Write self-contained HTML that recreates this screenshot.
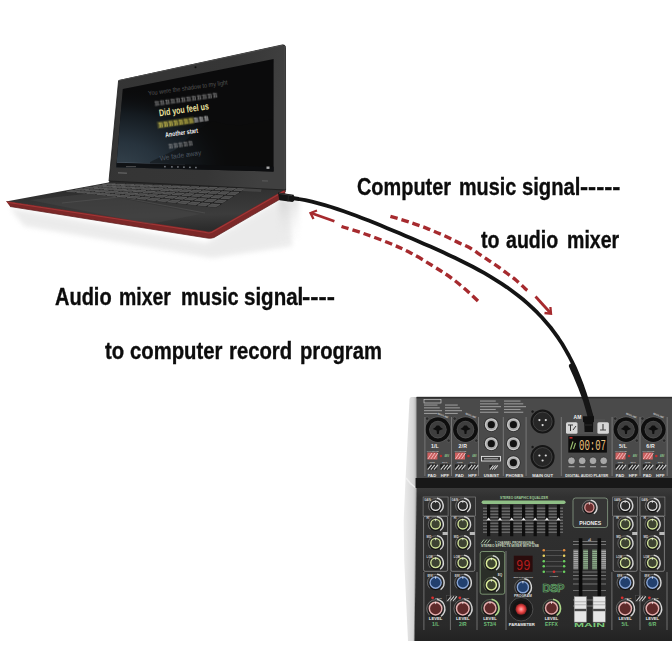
<!DOCTYPE html>
<html><head><meta charset="utf-8">
<style>
html,body{margin:0;padding:0;background:#fff;width:672px;height:672px;overflow:hidden}
svg{display:block;position:absolute;left:0;top:0}
.t{position:absolute;font-family:"Liberation Sans",sans-serif;font-weight:bold;color:#0c0c0c;white-space:nowrap;transform-origin:0 0;font-size:23.5px;line-height:1;-webkit-text-stroke:0.35px #0c0c0c}
</style></head><body>
<svg width="672" height="672" viewBox="0 0 672 672">

<defs>
  <filter id="blur2" x="-20%" y="-20%" width="140%" height="140%"><feGaussianBlur stdDeviation="2.5"/></filter>
  <filter id="blur1" x="-20%" y="-20%" width="140%" height="140%"><feGaussianBlur stdDeviation="0.6"/></filter>
  <filter id="blur05"><feGaussianBlur stdDeviation="0.35"/></filter>
  <linearGradient id="screenG" x1="0" y1="0" x2="0.25" y2="1">
    <stop offset="0" stop-color="#0b0b0c"/><stop offset="0.45" stop-color="#131820"/><stop offset="0.8" stop-color="#253040"/><stop offset="1" stop-color="#2c3646"/>
  </linearGradient>
  <linearGradient id="deckG" x1="0" y1="0" x2="0.3" y2="1">
    <stop offset="0" stop-color="#2e2e2e"/><stop offset="0.5" stop-color="#444"/><stop offset="1" stop-color="#2a2a2a"/>
  </linearGradient>
  <linearGradient id="lidG" x1="0" y1="0" x2="1" y2="0.3">
    <stop offset="0" stop-color="#3a3a3a"/><stop offset="1" stop-color="#2c2c2c"/>
  </linearGradient>
  <linearGradient id="shadowR" x1="0" y1="0" x2="0" y2="1">
    <stop offset="0" stop-color="#bdbdbd"/><stop offset="1" stop-color="#fff" stop-opacity="0"/>
  </linearGradient>
  <linearGradient id="silverG" x1="0" y1="0" x2="1" y2="0">
    <stop offset="0" stop-color="#ececec"/><stop offset="0.7" stop-color="#d6d6d6"/><stop offset="1" stop-color="#b4b4b4"/>
  </linearGradient>
  <linearGradient id="faceG" x1="0" y1="0" x2="0" y2="1">
    <stop offset="0" stop-color="#3c3c3c"/><stop offset="1" stop-color="#2e2e2e"/>
  </linearGradient>
  <radialGradient id="ledRed"><stop offset="0" stop-color="#ffb0b0"/><stop offset="0.55" stop-color="#f04848"/><stop offset="1" stop-color="#8a2020"/></radialGradient>
</defs>

<path d="M10 208 L206 243 L282 199 L290 206 L292 246 L212 258 L24 226 Z" fill="#d4d4d4" filter="url(#blur2)" opacity="0.45"/>
<rect x="279" y="199" width="20" height="50" fill="url(#shadowR)" opacity="0.45" filter="url(#blur2)"/>
<defs><linearGradient id="deckG2" x1="0" y1="0" x2="0.15" y2="1"><stop offset="0" stop-color="#262626"/><stop offset="0.45" stop-color="#343434"/><stop offset="0.75" stop-color="#3c3c3c"/><stop offset="1" stop-color="#2c2c2c"/></linearGradient></defs>
<path d="M6 201.5 L108.5 182.5 L112 178 L285 187 L286 191.5 L212 233.5 L205 233 Z" fill="url(#deckG2)"/>
<path d="M6 201 L205 231 Q209 232.5 212 231 L285 189.5 L285.5 196 L214 237.5 Q211 238.8 207 238 L10 206.5 Z" fill="#7c2828"/>
<path d="M7 202.3 L205 232.3 Q209 233.6 212 232.2 L284.5 191" fill="none" stroke="#a83838" stroke-width="1.1" opacity="0.9"/>
<path d="M10 206.5 L207 238 Q211 238.8 214 237.5 L285.5 196" fill="none" stroke="#5a1a1a" stroke-width="0.9" opacity="0.8"/>
<path d="M30 200 L95 193 L200 214 L150 224 Z" fill="#4a4a4a" opacity="0.45" filter="url(#blur1)"/><path d="M62 203 L120 197 L205 213" fill="none" stroke="#5a5a5a" stroke-width="0.8" opacity="0.6"/>
<path d="M64 191.5 L109 183.2 L247.5 187.5 L216 207.8 Z" fill="#1c1c1c"/>
<path d="M66.4 191.4 L74.4 192.2 L80.2 191.0 L72.2 190.3Z M76.5 192.4 L84.6 193.3 L90.2 192.0 L82.2 191.2Z M86.6 193.5 L94.7 194.3 L100.2 193.0 L92.2 192.2Z M96.7 194.5 L104.8 195.4 L110.2 193.9 L102.2 193.1Z M106.8 195.6 L114.9 196.5 L120.1 194.9 L112.2 194.1Z M116.9 196.7 L125.0 197.5 L130.1 195.8 L122.1 195.1Z M127.0 197.7 L135.1 198.6 L140.1 196.8 L132.1 196.0Z M137.1 198.8 L145.2 199.6 L150.1 197.7 L142.1 197.0Z M147.2 199.9 L155.3 200.7 L160.1 198.7 L152.1 197.9Z M157.3 200.9 L165.4 201.8 L170.1 199.7 L162.1 198.9Z M167.4 202.0 L175.5 202.8 L180.1 200.6 L172.1 199.9Z M177.5 203.0 L185.6 203.9 L190.1 201.6 L182.1 200.8Z M187.6 204.1 L195.7 205.0 L200.1 202.5 L192.1 201.8Z M197.7 205.2 L205.8 206.0 L210.1 203.5 L202.1 202.7Z M207.8 206.2 L215.9 207.1 L220.0 204.5 L212.0 203.7Z M75.3 189.7 L83.3 190.4 L89.0 189.2 L81.2 188.6Z M85.3 190.6 L93.2 191.3 L98.8 190.0 L91.0 189.4Z M95.2 191.5 L103.1 192.2 L108.6 190.8 L100.8 190.2Z M105.1 192.4 L113.1 193.1 L118.5 191.6 L110.6 191.0Z M115.0 193.3 L123.0 194.0 L128.3 192.4 L120.4 191.8Z M125.0 194.2 L132.9 194.9 L138.1 193.2 L130.2 192.6Z M134.9 195.1 L142.8 195.8 L147.9 194.0 L140.0 193.4Z M144.8 196.0 L152.8 196.7 L157.7 194.8 L149.8 194.2Z M154.8 196.9 L162.7 197.6 L167.5 195.6 L159.7 195.0Z M164.7 197.8 L172.6 198.5 L177.3 196.4 L169.5 195.8Z M174.6 198.7 L182.5 199.4 L187.1 197.2 L179.3 196.6Z M184.5 199.6 L192.5 200.3 L196.9 198.0 L189.1 197.4Z M194.5 200.5 L202.4 201.2 L206.7 198.8 L198.9 198.2Z M204.4 201.4 L212.3 202.1 L216.5 199.6 L208.7 199.0Z M214.3 202.3 L222.3 203.0 L226.4 200.4 L218.5 199.8Z M84.3 188.0 L92.1 188.6 L97.9 187.4 L90.2 186.9Z M94.1 188.7 L101.9 189.3 L107.5 188.1 L99.8 187.6Z M103.8 189.5 L111.6 190.1 L117.1 188.7 L109.4 188.2Z M113.6 190.2 L121.4 190.8 L126.8 189.3 L119.1 188.8Z M123.3 191.0 L131.1 191.6 L136.4 190.0 L128.7 189.5Z M133.1 191.7 L140.9 192.3 L146.0 190.6 L138.3 190.1Z M142.8 192.5 L150.6 193.1 L155.6 191.3 L147.9 190.7Z M152.5 193.2 L160.3 193.8 L165.3 191.9 L157.6 191.4Z M162.3 193.9 L170.1 194.5 L174.9 192.5 L167.2 192.0Z M172.0 194.7 L179.8 195.3 L184.5 193.2 L176.8 192.7Z M181.8 195.4 L189.6 196.0 L194.2 193.8 L186.5 193.3Z M191.5 196.2 L199.3 196.8 L203.8 194.5 L196.1 193.9Z M201.3 196.9 L209.1 197.5 L213.4 195.1 L205.7 194.6Z M211.0 197.7 L218.8 198.3 L223.0 195.7 L215.3 195.2Z M220.8 198.4 L228.6 199.0 L232.7 196.4 L225.0 195.9Z M93.3 186.3 L101.0 186.8 L106.7 185.6 L99.1 185.2Z M102.9 186.9 L110.5 187.4 L116.2 186.1 L108.6 185.7Z M112.4 187.5 L120.1 188.0 L125.6 186.6 L118.0 186.2Z M122.0 188.1 L129.7 188.5 L135.1 187.1 L127.5 186.7Z M131.6 188.7 L139.2 189.1 L144.5 187.5 L136.9 187.2Z M141.1 189.2 L148.8 189.7 L154.0 188.0 L146.4 187.6Z M150.7 189.8 L158.4 190.3 L163.4 188.5 L155.8 188.1Z M160.3 190.4 L167.9 190.9 L172.8 189.0 L165.3 188.6Z M169.8 191.0 L177.5 191.5 L182.3 189.5 L174.7 189.1Z M179.4 191.6 L187.1 192.0 L191.7 189.9 L184.2 189.5Z M189.0 192.2 L196.6 192.6 L201.2 190.4 L193.6 190.0Z M198.5 192.7 L206.2 193.2 L210.6 190.9 L203.1 190.5Z M208.1 193.3 L215.8 193.8 L220.1 191.4 L212.5 191.0Z M217.7 193.9 L225.3 194.4 L229.5 191.8 L222.0 191.5Z M227.2 194.5 L234.9 195.0 L239.0 192.3 L231.4 191.9Z M102.3 184.7 L109.8 185.0 L115.5 183.8 L108.1 183.6Z M111.7 185.1 L119.2 185.4 L124.8 184.1 L117.4 183.9Z M121.1 185.5 L128.6 185.8 L134.1 184.5 L126.7 184.2Z M130.4 185.9 L138.0 186.3 L143.4 184.8 L135.9 184.5Z M139.8 186.3 L147.3 186.7 L152.6 185.1 L145.2 184.8Z M149.2 186.8 L156.7 187.1 L161.9 185.4 L154.5 185.2Z M158.6 187.2 L166.1 187.5 L171.2 185.7 L163.7 185.5Z M168.0 187.6 L175.5 188.0 L180.4 186.0 L173.0 185.8Z M177.4 188.0 L184.9 188.4 L189.7 186.4 L182.3 186.1Z M186.8 188.5 L194.3 188.8 L199.0 186.7 L191.6 186.4Z M196.2 188.9 L203.7 189.2 L208.2 187.0 L200.8 186.8Z M205.5 189.3 L213.0 189.6 L217.5 187.3 L210.1 187.1Z M214.9 189.7 L222.4 190.1 L226.8 187.6 L219.4 187.4Z M224.3 190.1 L231.8 190.5 L236.0 188.0 L228.6 187.7Z M233.7 190.6 L241.2 190.9 L245.3 188.3 L237.9 188.0Z" fill="#4c4c4c"/>
<path d="M66.4 191.4 L74.4 192.2 L80.2 191.0 L72.2 190.3Z M76.5 192.4 L84.6 193.3 L90.2 192.0 L82.2 191.2Z M86.6 193.5 L94.7 194.3 L100.2 193.0 L92.2 192.2Z M96.7 194.5 L104.8 195.4 L110.2 193.9 L102.2 193.1Z M106.8 195.6 L114.9 196.5 L120.1 194.9 L112.2 194.1Z M116.9 196.7 L125.0 197.5 L130.1 195.8 L122.1 195.1Z M127.0 197.7 L135.1 198.6 L140.1 196.8 L132.1 196.0Z M137.1 198.8 L145.2 199.6 L150.1 197.7 L142.1 197.0Z M147.2 199.9 L155.3 200.7 L160.1 198.7 L152.1 197.9Z M157.3 200.9 L165.4 201.8 L170.1 199.7 L162.1 198.9Z M167.4 202.0 L175.5 202.8 L180.1 200.6 L172.1 199.9Z M177.5 203.0 L185.6 203.9 L190.1 201.6 L182.1 200.8Z M187.6 204.1 L195.7 205.0 L200.1 202.5 L192.1 201.8Z M197.7 205.2 L205.8 206.0 L210.1 203.5 L202.1 202.7Z M207.8 206.2 L215.9 207.1 L220.0 204.5 L212.0 203.7Z M75.3 189.7 L83.3 190.4 L89.0 189.2 L81.2 188.6Z M85.3 190.6 L93.2 191.3 L98.8 190.0 L91.0 189.4Z M95.2 191.5 L103.1 192.2 L108.6 190.8 L100.8 190.2Z M105.1 192.4 L113.1 193.1 L118.5 191.6 L110.6 191.0Z M115.0 193.3 L123.0 194.0 L128.3 192.4 L120.4 191.8Z M125.0 194.2 L132.9 194.9 L138.1 193.2 L130.2 192.6Z M134.9 195.1 L142.8 195.8 L147.9 194.0 L140.0 193.4Z M144.8 196.0 L152.8 196.7 L157.7 194.8 L149.8 194.2Z M154.8 196.9 L162.7 197.6 L167.5 195.6 L159.7 195.0Z M164.7 197.8 L172.6 198.5 L177.3 196.4 L169.5 195.8Z M174.6 198.7 L182.5 199.4 L187.1 197.2 L179.3 196.6Z M184.5 199.6 L192.5 200.3 L196.9 198.0 L189.1 197.4Z M194.5 200.5 L202.4 201.2 L206.7 198.8 L198.9 198.2Z M204.4 201.4 L212.3 202.1 L216.5 199.6 L208.7 199.0Z M214.3 202.3 L222.3 203.0 L226.4 200.4 L218.5 199.8Z M84.3 188.0 L92.1 188.6 L97.9 187.4 L90.2 186.9Z M94.1 188.7 L101.9 189.3 L107.5 188.1 L99.8 187.6Z M103.8 189.5 L111.6 190.1 L117.1 188.7 L109.4 188.2Z M113.6 190.2 L121.4 190.8 L126.8 189.3 L119.1 188.8Z M123.3 191.0 L131.1 191.6 L136.4 190.0 L128.7 189.5Z M133.1 191.7 L140.9 192.3 L146.0 190.6 L138.3 190.1Z M142.8 192.5 L150.6 193.1 L155.6 191.3 L147.9 190.7Z M152.5 193.2 L160.3 193.8 L165.3 191.9 L157.6 191.4Z M162.3 193.9 L170.1 194.5 L174.9 192.5 L167.2 192.0Z M172.0 194.7 L179.8 195.3 L184.5 193.2 L176.8 192.7Z M181.8 195.4 L189.6 196.0 L194.2 193.8 L186.5 193.3Z M191.5 196.2 L199.3 196.8 L203.8 194.5 L196.1 193.9Z M201.3 196.9 L209.1 197.5 L213.4 195.1 L205.7 194.6Z M211.0 197.7 L218.8 198.3 L223.0 195.7 L215.3 195.2Z M220.8 198.4 L228.6 199.0 L232.7 196.4 L225.0 195.9Z M93.3 186.3 L101.0 186.8 L106.7 185.6 L99.1 185.2Z M102.9 186.9 L110.5 187.4 L116.2 186.1 L108.6 185.7Z M112.4 187.5 L120.1 188.0 L125.6 186.6 L118.0 186.2Z M122.0 188.1 L129.7 188.5 L135.1 187.1 L127.5 186.7Z M131.6 188.7 L139.2 189.1 L144.5 187.5 L136.9 187.2Z M141.1 189.2 L148.8 189.7 L154.0 188.0 L146.4 187.6Z M150.7 189.8 L158.4 190.3 L163.4 188.5 L155.8 188.1Z M160.3 190.4 L167.9 190.9 L172.8 189.0 L165.3 188.6Z M169.8 191.0 L177.5 191.5 L182.3 189.5 L174.7 189.1Z M179.4 191.6 L187.1 192.0 L191.7 189.9 L184.2 189.5Z M189.0 192.2 L196.6 192.6 L201.2 190.4 L193.6 190.0Z M198.5 192.7 L206.2 193.2 L210.6 190.9 L203.1 190.5Z M208.1 193.3 L215.8 193.8 L220.1 191.4 L212.5 191.0Z M217.7 193.9 L225.3 194.4 L229.5 191.8 L222.0 191.5Z M227.2 194.5 L234.9 195.0 L239.0 192.3 L231.4 191.9Z M102.3 184.7 L109.8 185.0 L115.5 183.8 L108.1 183.6Z M111.7 185.1 L119.2 185.4 L124.8 184.1 L117.4 183.9Z M121.1 185.5 L128.6 185.8 L134.1 184.5 L126.7 184.2Z M130.4 185.9 L138.0 186.3 L143.4 184.8 L135.9 184.5Z M139.8 186.3 L147.3 186.7 L152.6 185.1 L145.2 184.8Z M149.2 186.8 L156.7 187.1 L161.9 185.4 L154.5 185.2Z M158.6 187.2 L166.1 187.5 L171.2 185.7 L163.7 185.5Z M168.0 187.6 L175.5 188.0 L180.4 186.0 L173.0 185.8Z M177.4 188.0 L184.9 188.4 L189.7 186.4 L182.3 186.1Z M186.8 188.5 L194.3 188.8 L199.0 186.7 L191.6 186.4Z M196.2 188.9 L203.7 189.2 L208.2 187.0 L200.8 186.8Z M205.5 189.3 L213.0 189.6 L217.5 187.3 L210.1 187.1Z M214.9 189.7 L222.4 190.1 L226.8 187.6 L219.4 187.4Z M224.3 190.1 L231.8 190.5 L236.0 188.0 L228.6 187.7Z M233.7 190.6 L241.2 190.9 L245.3 188.3 L237.9 188.0Z" fill="none" stroke="#8a8a8a" stroke-width="0.45" opacity="0.65"/>
<path d="M244 186 L262 187 L261 192 L243 191 Z" fill="#4a4a4a" opacity="0.8"/>
<defs><linearGradient id="lidG2" x1="0" y1="0" x2="1" y2="0.2"><stop offset="0" stop-color="#343434"/><stop offset="0.7" stop-color="#363636"/><stop offset="1" stop-color="#404040"/></linearGradient></defs>
<path d="M118.6 80.6 L282.5 44.9 Q285.5 44.6 285.5 47.5 L285.6 190 L109 181 Z" fill="url(#lidG2)" stroke="#1c1c1c" stroke-width="0.8" stroke-linejoin="round"/>
<path d="M119 80.5 L283 45.2" stroke="#4c4c4c" stroke-width="1"/>
<path d="M284.6 46 L284.8 189" stroke="#444" stroke-width="1.4"/>
<defs><radialGradient id="skyG" cx="0.02" cy="1.0" r="0.75"><stop offset="0" stop-color="#36444e"/><stop offset="0.35" stop-color="#27333d"/><stop offset="0.7" stop-color="#141a1f"/><stop offset="1" stop-color="#0b0b0c" stop-opacity="0"/></radialGradient></defs>
<path d="M122.8 89 L273.6 59 L273.6 171.6 L116.3 167.3 Z" fill="#0b0b0c"/>
<path d="M122.8 89 L273.6 59 L273.6 171.6 L116.3 167.3 Z" fill="url(#skyG)"/>
<path d="M150 162 L175 150 L195 132 L212 121 L225 124 L240 125.5 L258 122 L273 119 L273 171.5 L150 166 Z" fill="#0a0a0b" opacity="0.45"/>
<path d="M117 162.5 L185 165" stroke="#6a7482" stroke-width="0.8" opacity="0.6" filter="url(#blur05)"/>
<path d="M116.3 167.3 L273.6 171.6 L273.6 166.8 L116.5 162.8 Z" fill="#0c0d10" opacity="0.9"/>
<rect x="164" y="165.9" width="1.8" height="1.5" fill="#b8c0c8" opacity="0.55"/>
<rect x="171" y="166.1" width="1.8" height="1.5" fill="#b8c0c8" opacity="0.55"/>
<rect x="177" y="166.2" width="1.8" height="1.5" fill="#b8c0c8" opacity="0.55"/>
<rect x="183" y="166.4" width="1.8" height="1.5" fill="#b8c0c8" opacity="0.55"/>
<rect x="189" y="166.6" width="1.8" height="1.5" fill="#b8c0c8" opacity="0.55"/>
<rect x="195" y="166.8" width="1.8" height="1.5" fill="#b8c0c8" opacity="0.55"/>
<rect x="266.5" y="166.5" width="3" height="2.4" fill="#ddd" opacity="0.75"/>
<rect x="126" y="166" width="10" height="1.2" fill="#999" opacity="0.4"/>
<rect transform="translate(118,172) rotate(3)" x="0" y="0" width="9" height="1.6" fill="#777" opacity="0.6"/>
<rect transform="translate(262,180) rotate(3)" x="0" y="0" width="6" height="1.4" fill="#666" opacity="0.5"/>
<circle cx="195.5" cy="67.2" r="1" fill="#0e0e0e"/>
<text transform="translate(188,88.3) rotate(-8)" x="0" y="0" text-anchor="middle" dominant-baseline="middle" font-family="Liberation Sans" font-weight="normal" font-size="6.4" fill="#555555" opacity="1" textLength="80" lengthAdjust="spacingAndGlyphs">You were the shadow to my light</text>
<g transform="translate(186,99.2) rotate(-8)" opacity="0.72" filter="url(#blur05)"><path d="M-31.70 -1.70 h4.33 M-31.40 0.00 h3.83 M-31.70 1.90 h4.33 M-30.10 -2.30 v4.60 M-27.97 -1.30 v3.60" stroke="#a8a8a8" stroke-width="0.7"/><path d="M-26.37 -1.70 h4.33 M-26.07 0.00 h3.83 M-26.37 1.90 h4.33 M-24.77 -2.30 v4.60 M-22.63 -1.30 v3.60" stroke="#a8a8a8" stroke-width="0.7"/><path d="M-21.03 -1.70 h4.33 M-20.73 0.00 h3.83 M-21.03 1.90 h4.33 M-19.43 -2.30 v4.60 M-17.30 -1.30 v3.60" stroke="#a8a8a8" stroke-width="0.7"/><path d="M-15.70 -1.70 h4.33 M-15.40 0.00 h3.83 M-15.70 1.90 h4.33 M-14.10 -2.30 v4.60 M-11.97 -1.30 v3.60" stroke="#a8a8a8" stroke-width="0.7"/><path d="M-10.37 -1.70 h4.33 M-10.07 0.00 h3.83 M-10.37 1.90 h4.33 M-8.77 -2.30 v4.60 M-6.63 -1.30 v3.60" stroke="#a8a8a8" stroke-width="0.7"/><path d="M-5.03 -1.70 h4.33 M-4.73 0.00 h3.83 M-5.03 1.90 h4.33 M-3.43 -2.30 v4.60 M-1.30 -1.30 v3.60" stroke="#a8a8a8" stroke-width="0.7"/><path d="M0.30 -1.70 h4.33 M0.60 0.00 h3.83 M0.30 1.90 h4.33 M1.90 -2.30 v4.60 M4.03 -1.30 v3.60" stroke="#a8a8a8" stroke-width="0.7"/><path d="M5.63 -1.70 h4.33 M5.93 0.00 h3.83 M5.63 1.90 h4.33 M7.23 -2.30 v4.60 M9.37 -1.30 v3.60" stroke="#a8a8a8" stroke-width="0.7"/><path d="M10.97 -1.70 h4.33 M11.27 0.00 h3.83 M10.97 1.90 h4.33 M12.57 -2.30 v4.60 M14.70 -1.30 v3.60" stroke="#a8a8a8" stroke-width="0.7"/><path d="M16.30 -1.70 h4.33 M16.60 0.00 h3.83 M16.30 1.90 h4.33 M17.90 -2.30 v4.60 M20.03 -1.30 v3.60" stroke="#a8a8a8" stroke-width="0.7"/><path d="M21.63 -1.70 h4.33 M21.93 0.00 h3.83 M21.63 1.90 h4.33 M23.23 -2.30 v4.60 M25.37 -1.30 v3.60" stroke="#a8a8a8" stroke-width="0.7"/><path d="M26.97 -1.70 h4.33 M27.27 0.00 h3.83 M26.97 1.90 h4.33 M28.57 -2.30 v4.60 M30.70 -1.30 v3.60" stroke="#a8a8a8" stroke-width="0.7"/></g>
<text transform="translate(184,110.3) rotate(-8)" x="0" y="0" text-anchor="middle" dominant-baseline="middle" font-family="Liberation Sans" font-weight="bold" font-size="9.6" fill="#ece2a0" opacity="1" textLength="50" lengthAdjust="spacingAndGlyphs">Did you feel us</text>
<g transform="translate(183.5,121.6) rotate(-8)" opacity="0.85" filter="url(#blur05)"><rect x="-26.5" y="-3.5999999999999996" width="37.199999999999996" height="7.199999999999999" fill="#c8c040" opacity="0.28"/><path d="M-25.20 -1.80 h4.10 M-24.90 0.00 h3.60 M-25.20 2.00 h4.10 M-23.67 -2.40 v4.80 M-21.63 -1.40 v3.80" stroke="#e8da58" stroke-width="0.7"/><path d="M-20.10 -1.80 h4.10 M-19.80 0.00 h3.60 M-20.10 2.00 h4.10 M-18.57 -2.40 v4.80 M-16.53 -1.40 v3.80" stroke="#e8da58" stroke-width="0.7"/><path d="M-15.00 -1.80 h4.10 M-14.70 0.00 h3.60 M-15.00 2.00 h4.10 M-13.47 -2.40 v4.80 M-11.43 -1.40 v3.80" stroke="#e8da58" stroke-width="0.7"/><path d="M-9.90 -1.80 h4.10 M-9.60 0.00 h3.60 M-9.90 2.00 h4.10 M-8.37 -2.40 v4.80 M-6.33 -1.40 v3.80" stroke="#e8da58" stroke-width="0.7"/><path d="M-4.80 -1.80 h4.10 M-4.50 0.00 h3.60 M-4.80 2.00 h4.10 M-3.27 -2.40 v4.80 M-1.23 -1.40 v3.80" stroke="#e8da58" stroke-width="0.7"/><path d="M0.30 -1.80 h4.10 M0.60 0.00 h3.60 M0.30 2.00 h4.10 M1.83 -2.40 v4.80 M3.87 -1.40 v3.80" stroke="#e8da58" stroke-width="0.7"/><path d="M5.40 -1.80 h4.10 M5.70 0.00 h3.60 M5.40 2.00 h4.10 M6.93 -2.40 v4.80 M8.97 -1.40 v3.80" stroke="#e8da58" stroke-width="0.7"/><path d="M10.50 -1.80 h4.10 M10.80 0.00 h3.60 M10.50 2.00 h4.10 M12.03 -2.40 v4.80 M14.07 -1.40 v3.80" stroke="#e0e0e0" stroke-width="0.7"/><path d="M15.60 -1.80 h4.10 M15.90 0.00 h3.60 M15.60 2.00 h4.10 M17.13 -2.40 v4.80 M19.17 -1.40 v3.80" stroke="#e0e0e0" stroke-width="0.7"/><path d="M20.70 -1.80 h4.10 M21.00 0.00 h3.60 M20.70 2.00 h4.10 M22.23 -2.40 v4.80 M24.27 -1.40 v3.80" stroke="#e0e0e0" stroke-width="0.7"/></g>
<text transform="translate(181.7,133.2) rotate(-8)" x="0" y="0" text-anchor="middle" dominant-baseline="middle" font-family="Liberation Sans" font-weight="bold" font-size="6.8" fill="#f0f0f0" opacity="1" textLength="33" lengthAdjust="spacingAndGlyphs">Another start</text>
<g transform="translate(180.6,144.6) rotate(-8)" opacity="0.7" filter="url(#blur05)"><path d="M-12.20 -1.70 h4.00 M-11.90 0.00 h3.50 M-12.20 1.90 h4.00 M-10.70 -2.30 v4.60 M-8.70 -1.30 v3.60" stroke="#a8a8a8" stroke-width="0.7"/><path d="M-7.20 -1.70 h4.00 M-6.90 0.00 h3.50 M-7.20 1.90 h4.00 M-5.70 -2.30 v4.60 M-3.70 -1.30 v3.60" stroke="#a8a8a8" stroke-width="0.7"/><path d="M-2.20 -1.70 h4.00 M-1.90 0.00 h3.50 M-2.20 1.90 h4.00 M-0.70 -2.30 v4.60 M1.30 -1.30 v3.60" stroke="#a8a8a8" stroke-width="0.7"/><path d="M2.80 -1.70 h4.00 M3.10 0.00 h3.50 M2.80 1.90 h4.00 M4.30 -2.30 v4.60 M6.30 -1.30 v3.60" stroke="#a8a8a8" stroke-width="0.7"/><path d="M7.80 -1.70 h4.00 M8.10 0.00 h3.50 M7.80 1.90 h4.00 M9.30 -2.30 v4.60 M11.30 -1.30 v3.60" stroke="#a8a8a8" stroke-width="0.7"/></g>
<text transform="translate(180.5,156) rotate(-8)" x="0" y="0" text-anchor="middle" dominant-baseline="middle" font-family="Liberation Sans" font-weight="normal" font-size="6.8" fill="#4c5660" opacity="1" textLength="42" lengthAdjust="spacingAndGlyphs">We fade away</text>
<g fill="none" stroke="#a62a2e" stroke-width="3.4" stroke-linecap="butt">
<path d="M341.5 226.5 C345.4 227.8 357.1 231.2 365.0 234.0 C372.9 236.8 381.7 240.0 389.0 243.0 C396.3 246.0 401.7 248.2 409.0 252.0 C416.3 255.8 426.2 261.8 433.0 266.0 C439.8 270.2 444.7 273.2 450.0 277.0 C455.3 280.8 460.2 284.9 465.0 289.0 C469.8 293.1 476.2 299.4 478.5 301.5" stroke-dasharray="7.5 4"/>
<path d="M390.4 216.4 C392.9 217.1 400.9 219.4 405.3 220.8 C409.7 222.2 412.9 223.3 416.5 224.6 C420.1 225.8 423.4 227.0 426.9 228.3 C430.4 229.7 433.8 231.2 437.3 232.7 C440.8 234.2 444.2 235.6 447.7 237.2 C451.1 238.8 454.4 240.7 458.0 242.4 C461.6 244.1 465.6 245.5 469.3 247.6 C473.0 249.7 477.1 252.7 480.4 254.9 C483.7 257.1 486.3 258.8 489.3 260.8 C492.3 262.8 495.3 264.7 498.3 266.8 C501.3 268.9 504.2 271.3 507.2 273.5 C510.2 275.7 513.1 277.7 516.1 280.2 C519.1 282.7 522.9 286.5 525.0 288.4 C527.1 290.3 528.3 291.0 529.0 291.5" stroke-dasharray="7.5 4"/>
<path d="M311 213 L334.4 221.3" stroke-width="2.8"/>
<path d="M317 210.5 L310.5 213 L313.5 219" stroke-width="2.3"/>
<path d="M535.5 296.5 L550.5 313" stroke-width="2.8"/>
<path d="M544.5 313 L551 313.7 L550.4 307" stroke-width="2.3"/>
</g>
<g font-family="Liberation Sans">
<path d="M411.5 397 L417 397 L417 478 L414.5 641 L408 641 L404.2 560 L403.7 520 L405.5 480 L409.5 399 Q410 397 411.5 397 Z" fill="url(#silverG)"/>
<path d="M406 478 Q410 484 416 488" fill="none" stroke="#f4f4f4" stroke-width="1.5" opacity="0.8"/>
<path d="M416.3 398 L416.3 488 L414.3 641" fill="none" stroke="#8a8a8a" stroke-width="0.8"/>
<rect x="416.6" y="397" width="256" height="81" fill="#4a4a4a"/>
<rect x="416.6" y="396.8" width="256" height="1.6" fill="#2e2e2e"/>
<rect x="415.6" y="478" width="257" height="10" fill="#181818"/>
<defs><linearGradient id="faceG2" x1="0" y1="0" x2="0" y2="1"><stop offset="0" stop-color="#3a3a3a"/><stop offset="0.06" stop-color="#313131"/><stop offset="0.9" stop-color="#2a2a2a"/><stop offset="1" stop-color="#222"/></linearGradient></defs>
<path d="M416.6 488 L672 488 L672 641 L414.5 641 Z" fill="url(#faceG2)"/>
<circle cx="427.09999999999997" cy="418.6" r="1.7" fill="#2a2a2a" stroke="#666" stroke-width="0.5"/><circle cx="448.7" cy="440.6" r="1.7" fill="#2a2a2a" stroke="#666" stroke-width="0.5"/><circle cx="437.9" cy="429.6" r="13" fill="#606060"/><circle cx="437.9" cy="429.6" r="12.4" fill="#0e0e0e"/><circle cx="437.9" cy="429.6" r="8.8" fill="#505050"/><circle cx="437.9" cy="429.6" r="8.0" fill="#3e3e3e"/><path d="M432.7 429.1 Q435.4 427.40000000000003 436.7 425.40000000000003 L439.09999999999997 425.40000000000003 Q440.4 427.40000000000003 443.09999999999997 429.1 L439.2 430.40000000000003 L438.79999999999995 434.0 L437.0 434.0 L436.59999999999997 430.40000000000003 Z" fill="#0e0e0e"/><text x="442.9" y="416.40000000000003" font-size="2.6" fill="#cfcfcf" text-anchor="middle" font-weight="bold" transform="rotate(22 442.9 416.40000000000003)">MIC/LINE</text><text x="430.9" y="447.8" font-size="5.2" fill="#eeeeee" text-anchor="start" font-weight="bold" letter-spacing="0.2">1/L</text><text x="432.9" y="452.0" font-size="2.3" fill="#bbb" text-anchor="middle" font-weight="bold" >PHANTOM</text><rect x="427.4" y="452.5" width="10" height="7" fill="#cc6060"/><path d="M427.9 459 L431.9 453" stroke="#f4c0c0" stroke-width="0.9"/><path d="M430.9 459 L434.9 453" stroke="#f4c0c0" stroke-width="0.9"/><path d="M433.9 459 L437.9 453" stroke="#f4c0c0" stroke-width="0.9"/><circle cx="440.9" cy="456" r="1.3" fill="#c03030"/><text x="446.9" y="457.3" font-size="2.6" fill="#8fc890" text-anchor="middle" font-weight="bold" >48V</text><rect x="426.9" y="464" width="10" height="6.5" fill="#222" stroke="#555" stroke-width="0.5"/><path d="M427.70 469.70 L431.60 464.80" stroke="#d0d0d0" stroke-width="1.1"/><path d="M430.82 469.70 L434.72 464.80" stroke="#d0d0d0" stroke-width="1.1"/><path d="M433.95 469.70 L437.85 464.80" stroke="#d0d0d0" stroke-width="1.1"/><rect x="439.9" y="464" width="10" height="6.5" fill="#222" stroke="#555" stroke-width="0.5"/><path d="M440.70 469.70 L444.60 464.80" stroke="#d0d0d0" stroke-width="1.1"/><path d="M443.82 469.70 L447.72 464.80" stroke="#d0d0d0" stroke-width="1.1"/><path d="M446.95 469.70 L450.85 464.80" stroke="#d0d0d0" stroke-width="1.1"/><text x="431.9" y="463" font-size="2.2" fill="#bbb" text-anchor="middle" font-weight="bold" >-20dB</text><text x="444.9" y="463" font-size="2.2" fill="#bbb" text-anchor="middle" font-weight="bold" >80Hz</text><text x="431.9" y="477" font-size="4.2" fill="#e8e8e8" text-anchor="middle" font-weight="bold" >PAD</text><text x="444.9" y="477" font-size="4.2" fill="#e8e8e8" text-anchor="middle" font-weight="bold" >HPF</text>
<circle cx="454.7" cy="418.6" r="1.7" fill="#2a2a2a" stroke="#666" stroke-width="0.5"/><circle cx="476.3" cy="440.6" r="1.7" fill="#2a2a2a" stroke="#666" stroke-width="0.5"/><circle cx="465.5" cy="429.6" r="13" fill="#606060"/><circle cx="465.5" cy="429.6" r="12.4" fill="#0e0e0e"/><circle cx="465.5" cy="429.6" r="8.8" fill="#505050"/><circle cx="465.5" cy="429.6" r="8.0" fill="#3e3e3e"/><path d="M460.3 429.1 Q463.0 427.40000000000003 464.3 425.40000000000003 L466.7 425.40000000000003 Q468.0 427.40000000000003 470.7 429.1 L466.8 430.40000000000003 L466.4 434.0 L464.6 434.0 L464.2 430.40000000000003 Z" fill="#0e0e0e"/><text x="470.5" y="416.40000000000003" font-size="2.6" fill="#cfcfcf" text-anchor="middle" font-weight="bold" transform="rotate(22 470.5 416.40000000000003)">MIC/LINE</text><text x="458.5" y="447.8" font-size="5.2" fill="#eeeeee" text-anchor="start" font-weight="bold" letter-spacing="0.2">2/R</text><text x="460.5" y="452.0" font-size="2.3" fill="#bbb" text-anchor="middle" font-weight="bold" >PHANTOM</text><rect x="455.0" y="452.5" width="10" height="7" fill="#cc6060"/><path d="M455.5 459 L459.5 453" stroke="#f4c0c0" stroke-width="0.9"/><path d="M458.5 459 L462.5 453" stroke="#f4c0c0" stroke-width="0.9"/><path d="M461.5 459 L465.5 453" stroke="#f4c0c0" stroke-width="0.9"/><circle cx="468.5" cy="456" r="1.3" fill="#c03030"/><text x="474.5" y="457.3" font-size="2.6" fill="#8fc890" text-anchor="middle" font-weight="bold" >48V</text><rect x="454.5" y="464" width="10" height="6.5" fill="#222" stroke="#555" stroke-width="0.5"/><path d="M455.30 469.70 L459.20 464.80" stroke="#d0d0d0" stroke-width="1.1"/><path d="M458.43 469.70 L462.32 464.80" stroke="#d0d0d0" stroke-width="1.1"/><path d="M461.55 469.70 L465.45 464.80" stroke="#d0d0d0" stroke-width="1.1"/><rect x="467.5" y="464" width="10" height="6.5" fill="#222" stroke="#555" stroke-width="0.5"/><path d="M468.30 469.70 L472.20 464.80" stroke="#d0d0d0" stroke-width="1.1"/><path d="M471.43 469.70 L475.32 464.80" stroke="#d0d0d0" stroke-width="1.1"/><path d="M474.55 469.70 L478.45 464.80" stroke="#d0d0d0" stroke-width="1.1"/><text x="459.5" y="463" font-size="2.2" fill="#bbb" text-anchor="middle" font-weight="bold" >-20dB</text><text x="472.5" y="463" font-size="2.2" fill="#bbb" text-anchor="middle" font-weight="bold" >80Hz</text><text x="459.5" y="477" font-size="4.2" fill="#e8e8e8" text-anchor="middle" font-weight="bold" >PAD</text><text x="472.5" y="477" font-size="4.2" fill="#e8e8e8" text-anchor="middle" font-weight="bold" >HPF</text>
<circle cx="615.2" cy="418.6" r="1.7" fill="#2a2a2a" stroke="#666" stroke-width="0.5"/><circle cx="636.8" cy="440.6" r="1.7" fill="#2a2a2a" stroke="#666" stroke-width="0.5"/><circle cx="626.0" cy="429.6" r="13" fill="#606060"/><circle cx="626.0" cy="429.6" r="12.4" fill="#0e0e0e"/><circle cx="626.0" cy="429.6" r="8.8" fill="#505050"/><circle cx="626.0" cy="429.6" r="8.0" fill="#3e3e3e"/><path d="M620.8 429.1 Q623.5 427.40000000000003 624.8 425.40000000000003 L627.2 425.40000000000003 Q628.5 427.40000000000003 631.2 429.1 L627.3 430.40000000000003 L626.9 434.0 L625.1 434.0 L624.7 430.40000000000003 Z" fill="#0e0e0e"/><text x="631.0" y="416.40000000000003" font-size="2.6" fill="#cfcfcf" text-anchor="middle" font-weight="bold" transform="rotate(22 631.0 416.40000000000003)">MIC/LINE</text><text x="619.0" y="447.8" font-size="5.2" fill="#eeeeee" text-anchor="start" font-weight="bold" letter-spacing="0.2">5/L</text><text x="621.0" y="452.0" font-size="2.3" fill="#bbb" text-anchor="middle" font-weight="bold" >PHANTOM</text><rect x="615.5" y="452.5" width="10" height="7" fill="#cc6060"/><path d="M616.0 459 L620.0 453" stroke="#f4c0c0" stroke-width="0.9"/><path d="M619.0 459 L623.0 453" stroke="#f4c0c0" stroke-width="0.9"/><path d="M622.0 459 L626.0 453" stroke="#f4c0c0" stroke-width="0.9"/><circle cx="629.0" cy="456" r="1.3" fill="#c03030"/><text x="635.0" y="457.3" font-size="2.6" fill="#8fc890" text-anchor="middle" font-weight="bold" >48V</text><rect x="615.0" y="464" width="10" height="6.5" fill="#222" stroke="#555" stroke-width="0.5"/><path d="M615.80 469.70 L619.70 464.80" stroke="#d0d0d0" stroke-width="1.1"/><path d="M618.92 469.70 L622.82 464.80" stroke="#d0d0d0" stroke-width="1.1"/><path d="M622.05 469.70 L625.95 464.80" stroke="#d0d0d0" stroke-width="1.1"/><rect x="628.0" y="464" width="10" height="6.5" fill="#222" stroke="#555" stroke-width="0.5"/><path d="M628.80 469.70 L632.70 464.80" stroke="#d0d0d0" stroke-width="1.1"/><path d="M631.92 469.70 L635.82 464.80" stroke="#d0d0d0" stroke-width="1.1"/><path d="M635.05 469.70 L638.95 464.80" stroke="#d0d0d0" stroke-width="1.1"/><text x="620.0" y="463" font-size="2.2" fill="#bbb" text-anchor="middle" font-weight="bold" >-20dB</text><text x="633.0" y="463" font-size="2.2" fill="#bbb" text-anchor="middle" font-weight="bold" >80Hz</text><text x="620.0" y="477" font-size="4.2" fill="#e8e8e8" text-anchor="middle" font-weight="bold" >PAD</text><text x="633.0" y="477" font-size="4.2" fill="#e8e8e8" text-anchor="middle" font-weight="bold" >HPF</text>
<circle cx="642.5" cy="418.6" r="1.7" fill="#2a2a2a" stroke="#666" stroke-width="0.5"/><circle cx="664.0999999999999" cy="440.6" r="1.7" fill="#2a2a2a" stroke="#666" stroke-width="0.5"/><circle cx="653.3" cy="429.6" r="13" fill="#606060"/><circle cx="653.3" cy="429.6" r="12.4" fill="#0e0e0e"/><circle cx="653.3" cy="429.6" r="8.8" fill="#505050"/><circle cx="653.3" cy="429.6" r="8.0" fill="#3e3e3e"/><path d="M648.0999999999999 429.1 Q650.8 427.40000000000003 652.0999999999999 425.40000000000003 L654.5 425.40000000000003 Q655.8 427.40000000000003 658.5 429.1 L654.5999999999999 430.40000000000003 L654.1999999999999 434.0 L652.4 434.0 L652.0 430.40000000000003 Z" fill="#0e0e0e"/><text x="658.3" y="416.40000000000003" font-size="2.6" fill="#cfcfcf" text-anchor="middle" font-weight="bold" transform="rotate(22 658.3 416.40000000000003)">MIC/LINE</text><text x="646.3" y="447.8" font-size="5.2" fill="#eeeeee" text-anchor="start" font-weight="bold" letter-spacing="0.2">6/R</text><text x="648.3" y="452.0" font-size="2.3" fill="#bbb" text-anchor="middle" font-weight="bold" >PHANTOM</text><rect x="642.8" y="452.5" width="10" height="7" fill="#cc6060"/><path d="M643.3 459 L647.3 453" stroke="#f4c0c0" stroke-width="0.9"/><path d="M646.3 459 L650.3 453" stroke="#f4c0c0" stroke-width="0.9"/><path d="M649.3 459 L653.3 453" stroke="#f4c0c0" stroke-width="0.9"/><circle cx="656.3" cy="456" r="1.3" fill="#c03030"/><text x="662.3" y="457.3" font-size="2.6" fill="#8fc890" text-anchor="middle" font-weight="bold" >48V</text><rect x="642.3" y="464" width="10" height="6.5" fill="#222" stroke="#555" stroke-width="0.5"/><path d="M643.10 469.70 L647.00 464.80" stroke="#d0d0d0" stroke-width="1.1"/><path d="M646.22 469.70 L650.12 464.80" stroke="#d0d0d0" stroke-width="1.1"/><path d="M649.35 469.70 L653.25 464.80" stroke="#d0d0d0" stroke-width="1.1"/><rect x="655.3" y="464" width="10" height="6.5" fill="#222" stroke="#555" stroke-width="0.5"/><path d="M656.10 469.70 L660.00 464.80" stroke="#d0d0d0" stroke-width="1.1"/><path d="M659.22 469.70 L663.12 464.80" stroke="#d0d0d0" stroke-width="1.1"/><path d="M662.35 469.70 L666.25 464.80" stroke="#d0d0d0" stroke-width="1.1"/><text x="647.3" y="463" font-size="2.2" fill="#bbb" text-anchor="middle" font-weight="bold" >-20dB</text><text x="660.3" y="463" font-size="2.2" fill="#bbb" text-anchor="middle" font-weight="bold" >80Hz</text><text x="647.3" y="477" font-size="4.2" fill="#e8e8e8" text-anchor="middle" font-weight="bold" >PAD</text><text x="660.3" y="477" font-size="4.2" fill="#e8e8e8" text-anchor="middle" font-weight="bold" >HPF</text>
<line x1="424.9" y1="417" x2="424.9" y2="476" stroke="#8a8a8a" stroke-width="0.7"/>
<line x1="451.5" y1="417" x2="451.5" y2="476" stroke="#8a8a8a" stroke-width="0.7"/>
<line x1="478.5" y1="417" x2="478.5" y2="476" stroke="#8a8a8a" stroke-width="0.7"/>
<line x1="503.3" y1="417" x2="503.3" y2="476" stroke="#8a8a8a" stroke-width="0.7"/>
<line x1="526.1" y1="417" x2="526.1" y2="476" stroke="#8a8a8a" stroke-width="0.7"/>
<line x1="561.3" y1="417" x2="561.3" y2="476" stroke="#8a8a8a" stroke-width="0.7"/>
<line x1="612.1" y1="417" x2="612.1" y2="476" stroke="#8a8a8a" stroke-width="0.7"/>
<line x1="640" y1="417" x2="640" y2="476" stroke="#8a8a8a" stroke-width="0.7"/>
<line x1="667.2" y1="417" x2="667.2" y2="476" stroke="#8a8a8a" stroke-width="0.7"/>
<rect x="424" y="399.5" width="17" height="3.5" fill="none" stroke="#ddd" stroke-width="0.6"/>
<rect x="424" y="404.5" width="13.5" height="1.1" fill="#d8d8d8" opacity="0.55"/><rect x="424" y="407.3" width="15.75" height="1.1" fill="#d8d8d8" opacity="0.55"/><rect x="424" y="410.1" width="18.0" height="1.1" fill="#d8d8d8" opacity="0.55"/><rect x="424" y="412.9" width="13.5" height="1.1" fill="#d8d8d8" opacity="0.55"/>
<rect x="445" y="404.5" width="12.75" height="1.1" fill="#d8d8d8" opacity="0.55"/><rect x="445" y="407.3" width="14.875" height="1.1" fill="#d8d8d8" opacity="0.55"/><rect x="445" y="410.1" width="17.0" height="1.1" fill="#d8d8d8" opacity="0.55"/><rect x="445" y="412.9" width="12.75" height="1.1" fill="#d8d8d8" opacity="0.55"/>
<rect x="480" y="400.5" width="15.75" height="1.1" fill="#d8d8d8" opacity="0.55"/><rect x="480" y="403.3" width="18.375" height="1.1" fill="#d8d8d8" opacity="0.55"/><rect x="480" y="406.1" width="21.0" height="1.1" fill="#d8d8d8" opacity="0.55"/><rect x="480" y="408.9" width="15.75" height="1.1" fill="#d8d8d8" opacity="0.55"/><rect x="480" y="411.7" width="18.375" height="1.1" fill="#d8d8d8" opacity="0.55"/>
<rect x="504" y="400.5" width="16.5" height="1.1" fill="#d8d8d8" opacity="0.55"/><rect x="504" y="403.3" width="19.25" height="1.1" fill="#d8d8d8" opacity="0.55"/><rect x="504" y="406.1" width="22.0" height="1.1" fill="#d8d8d8" opacity="0.55"/><rect x="504" y="408.9" width="16.5" height="1.1" fill="#d8d8d8" opacity="0.55"/><rect x="504" y="411.7" width="19.25" height="1.1" fill="#d8d8d8" opacity="0.55"/>
<circle cx="491.3" cy="424.7" r="7.2" fill="#2a2a2a"/><circle cx="491.3" cy="424.7" r="6.5" fill="#c9c9c9"/><circle cx="491.3" cy="424.7" r="5.2" fill="#a9a9a9"/><circle cx="491.3" cy="424.7" r="3.6" fill="#121212"/>
<circle cx="491.3" cy="443.7" r="7.2" fill="#2a2a2a"/><circle cx="491.3" cy="443.7" r="6.5" fill="#c9c9c9"/><circle cx="491.3" cy="443.7" r="5.2" fill="#a9a9a9"/><circle cx="491.3" cy="443.7" r="3.6" fill="#121212"/>
<circle cx="513.4" cy="424.7" r="7.2" fill="#2a2a2a"/><circle cx="513.4" cy="424.7" r="6.5" fill="#c9c9c9"/><circle cx="513.4" cy="424.7" r="5.2" fill="#a9a9a9"/><circle cx="513.4" cy="424.7" r="3.6" fill="#121212"/>
<circle cx="513.4" cy="443.7" r="7.2" fill="#2a2a2a"/><circle cx="513.4" cy="443.7" r="6.5" fill="#c9c9c9"/><circle cx="513.4" cy="443.7" r="5.2" fill="#a9a9a9"/><circle cx="513.4" cy="443.7" r="3.6" fill="#121212"/>
<circle cx="513.4" cy="462.7" r="7.2" fill="#2a2a2a"/><circle cx="513.4" cy="462.7" r="6.5" fill="#c9c9c9"/><circle cx="513.4" cy="462.7" r="5.2" fill="#a9a9a9"/><circle cx="513.4" cy="462.7" r="3.6" fill="#121212"/>
<rect x="481.5" y="456.4" width="19" height="4.6" fill="#3a3a3a" stroke="#e6e6e6" stroke-width="0.9"/>
<rect x="484" y="458" width="14" height="1.4" fill="#bbb" opacity="0.7"/>
<rect x="489" y="464.5" width="7" height="6" fill="#222" stroke="#555" stroke-width="0.5"/><path d="M489.80 469.70 L493.40 465.30" stroke="#d0d0d0" stroke-width="1.1"/><path d="M491.99 469.70 L495.59 465.30" stroke="#d0d0d0" stroke-width="1.1"/><path d="M494.18 469.70 L497.78 465.30" stroke="#d0d0d0" stroke-width="1.1"/>
<text x="491.5" y="477" font-size="4.2" fill="#e8e8e8" text-anchor="middle" font-weight="bold" >USB/ST</text>
<text x="514.5" y="477" font-size="4.2" fill="#e8e8e8" text-anchor="middle" font-weight="bold" >PHONES</text>
<text x="542.6" y="477" font-size="4.2" fill="#e8e8e8" text-anchor="middle" font-weight="bold" >MAIN OUT</text>
<circle cx="542.6" cy="421.6" r="12" fill="#161616"/><circle cx="542.6" cy="421.6" r="9.5" fill="#262626" stroke="#4a4a4a" stroke-width="0.8"/><circle cx="539.4" cy="420.1" r="1.1" fill="#ddd"/><circle cx="545.8000000000001" cy="420.1" r="1.1" fill="#ddd"/><circle cx="542.6" cy="425.1" r="1.1" fill="#ddd"/><circle cx="532.6" cy="411.6" r="1.6" fill="#1a1a1a" stroke="#555" stroke-width="0.5"/>
<circle cx="542.6" cy="457" r="12" fill="#161616"/><circle cx="542.6" cy="457" r="9.5" fill="#262626" stroke="#4a4a4a" stroke-width="0.8"/><circle cx="539.4" cy="455.5" r="1.1" fill="#ddd"/><circle cx="545.8000000000001" cy="455.5" r="1.1" fill="#ddd"/><circle cx="542.6" cy="460.5" r="1.1" fill="#ddd"/><circle cx="532.6" cy="447" r="1.6" fill="#1a1a1a" stroke="#555" stroke-width="0.5"/>
<rect x="575" y="419" width="30" height="15" fill="#555" opacity="0.6"/>
<rect x="566" y="422.2" width="11.5" height="11.5" rx="1.5" fill="#d6d6d6"/>
<rect x="597.4" y="422.2" width="11.5" height="11.5" rx="1.5" fill="#d6d6d6"/>
<path d="M568 425 h5 M570.5 425 v6 M573 430 l3 -4" stroke="#333" stroke-width="1"/>
<path d="M603 424 v6 M600 430 h6" stroke="#444" stroke-width="1.2"/>
<text x="577.5" y="418.8" font-size="5" fill="#eeeeee" text-anchor="middle" font-weight="bold" >AM</text>
<rect x="568.3" y="436.1" width="38.6" height="16.5" fill="#0d0d0d"/>
<rect x="569.5" y="437" width="3" height="1.6" fill="#c02828"/>
<text x="592.5" y="450.3" font-size="14" fill="#eec27e" text-anchor="middle" font-weight="normal" font-family="Liberation Mono" textLength="27" lengthAdjust="spacingAndGlyphs">00:07</text>
<path d="M570.5 449.5 l2.5 -8 M573.5 449 l2 -6" stroke="#9ac070" stroke-width="1.1"/>
<circle cx="571.5" cy="460.8" r="3.8" fill="#a8a8a8" stroke="#222" stroke-width="0.6"/>
<rect x="568.5" y="466" width="6" height="1.3" fill="#bbb" opacity="0.7"/>
<circle cx="582.2" cy="460.8" r="3.8" fill="#a8a8a8" stroke="#222" stroke-width="0.6"/>
<rect x="579.2" y="466" width="6" height="1.3" fill="#bbb" opacity="0.7"/>
<circle cx="593" cy="460.8" r="3.8" fill="#a8a8a8" stroke="#222" stroke-width="0.6"/>
<rect x="590" y="466" width="6" height="1.3" fill="#bbb" opacity="0.7"/>
<circle cx="603.7" cy="460.8" r="3.8" fill="#a8a8a8" stroke="#222" stroke-width="0.6"/>
<rect x="600.7" y="466" width="6" height="1.3" fill="#bbb" opacity="0.7"/>
<text x="586.8" y="477" font-size="3.6" fill="#e0e0e0" text-anchor="middle" font-weight="bold" textLength="43" lengthAdjust="spacingAndGlyphs">DIGITAL AUDIO PLAYER</text>
<rect x="423.1" y="497" width="25" height="19" fill="none" stroke="#8a8a8a" stroke-width="0.6"/><text x="427.6" y="500.5" font-size="2.6" fill="#ddd" text-anchor="middle" font-weight="bold" >GAIN</text><path d="M430.51 510.79 A7.199999999999999 7.199999999999999 0 1 1 440.69 510.79" fill="none" stroke="#ddd" stroke-width="0.6" opacity="0.55"/><path d="M436.92 498.22 A7.6 7.6 0 0 1 439.96 511.93" fill="none" stroke="#e8e8e8" stroke-width="1.3" opacity="0.9"/><circle cx="435.6" cy="506.5" r="5.8999999999999995" fill="#141414"/><circle cx="435.6" cy="505.7" r="4.6" fill="#2d2d2d" stroke="#e6e6e6" stroke-width="1.3"/><line x1="435.6" y1="500.49999999999994" x2="435.6" y2="502.9" stroke="#eee" stroke-width="0.8"/><rect x="423.6" y="516.3" width="24" height="55" rx="1.5" fill="none" stroke="#9a9a9a" stroke-width="0.7"/><text x="426.6" y="519.2" font-size="2.6" fill="#ddd" text-anchor="start" font-weight="bold" >HI</text><path d="M430.37 529.43 A7.4 7.4 0 1 1 440.83 529.43" fill="none" stroke="#ccc" stroke-width="0.6" opacity="0.55"/><path d="M436.95 516.52 A7.8 7.8 0 0 1 440.07 530.59" fill="none" stroke="#e8e8e8" stroke-width="1.3" opacity="0.9"/><circle cx="435.6" cy="525.0" r="6.1" fill="#141414"/><circle cx="435.6" cy="524.2" r="4.8" fill="#3d4232" stroke="#d2e49a" stroke-width="1.4"/><line x1="435.6" y1="518.8000000000001" x2="435.6" y2="521.2" stroke="#eee" stroke-width="0.8"/><text x="426.6" y="538.2" font-size="2.6" fill="#ddd" text-anchor="start" font-weight="bold" >MID</text><path d="M430.37 548.43 A7.4 7.4 0 1 1 440.83 548.43" fill="none" stroke="#ccc" stroke-width="0.6" opacity="0.55"/><path d="M436.95 535.52 A7.8 7.8 0 0 1 440.07 549.59" fill="none" stroke="#e8e8e8" stroke-width="1.3" opacity="0.9"/><circle cx="435.6" cy="544.0" r="6.1" fill="#141414"/><circle cx="435.6" cy="543.2" r="4.8" fill="#3d4232" stroke="#d2e49a" stroke-width="1.4"/><line x1="435.6" y1="537.8000000000001" x2="435.6" y2="540.2" stroke="#eee" stroke-width="0.8"/><text x="426.6" y="557.8" font-size="2.6" fill="#ddd" text-anchor="start" font-weight="bold" >LOW</text><path d="M430.37 568.03 A7.4 7.4 0 1 1 440.83 568.03" fill="none" stroke="#ccc" stroke-width="0.6" opacity="0.55"/><path d="M436.95 555.12 A7.8 7.8 0 0 1 440.07 569.19" fill="none" stroke="#e8e8e8" stroke-width="1.3" opacity="0.9"/><circle cx="435.6" cy="563.5999999999999" r="6.1" fill="#141414"/><circle cx="435.6" cy="562.8" r="4.8" fill="#3d4232" stroke="#d2e49a" stroke-width="1.4"/><line x1="435.6" y1="557.4" x2="435.6" y2="559.8" stroke="#eee" stroke-width="0.8"/><rect x="442.6" y="532" width="5" height="3" fill="#ddd" opacity="0.8"/><text x="427.6" y="576.5" font-size="2.6" fill="#ddd" text-anchor="start" font-weight="bold" >EFX</text><path d="M429.80 588.40 A8.2 8.2 0 1 1 441.40 588.40" fill="none" stroke="#ddd" stroke-width="0.6" opacity="0.55"/><path d="M437.09 574.13 A8.6 8.6 0 0 1 440.53 589.64" fill="none" stroke="#e8e8e8" stroke-width="1.3" opacity="0.9"/><circle cx="435.6" cy="583.4" r="6.8999999999999995" fill="#141414"/><circle cx="435.6" cy="582.6" r="5.6" fill="#22406e" stroke="#8aa6d6" stroke-width="1.4"/><line x1="435.6" y1="576.4" x2="435.6" y2="578.8" stroke="#eee" stroke-width="0.8"/><circle cx="432.6" cy="597.8" r="1.4" fill="#d83030"/><text x="438.6" y="598.8" font-size="2.4" fill="#ddd" text-anchor="middle" font-weight="bold" >PEAK</text><path d="M429.31 614.89 A8.9 8.9 0 1 1 441.89 614.89" fill="none" stroke="#eee" stroke-width="0.6" opacity="0.55"/><path d="M437.21 599.44 A9.3 9.3 0 0 1 440.93 616.22" fill="none" stroke="#e8e8e8" stroke-width="1.3" opacity="0.9"/><circle cx="435.6" cy="609.4" r="7.6" fill="#141414"/><circle cx="435.6" cy="608.6" r="6.3" fill="#5e2a2a" stroke="#e6b0b0" stroke-width="1.5"/><line x1="435.6" y1="601.7" x2="435.6" y2="604.1" stroke="#eee" stroke-width="0.8"/><text x="435.6" y="620" font-size="4.2" fill="#e8e8e8" text-anchor="middle" font-weight="bold" >LEVEL</text><text x="435.6" y="626.2" font-size="5" fill="#6fbf78" text-anchor="middle" font-weight="bold" >1/L</text>
<rect x="450.3" y="497" width="25" height="19" fill="none" stroke="#8a8a8a" stroke-width="0.6"/><text x="454.8" y="500.5" font-size="2.6" fill="#ddd" text-anchor="middle" font-weight="bold" >GAIN</text><path d="M457.71 510.79 A7.199999999999999 7.199999999999999 0 1 1 467.89 510.79" fill="none" stroke="#ddd" stroke-width="0.6" opacity="0.55"/><path d="M464.12 498.22 A7.6 7.6 0 0 1 467.16 511.93" fill="none" stroke="#e8e8e8" stroke-width="1.3" opacity="0.9"/><circle cx="462.8" cy="506.5" r="5.8999999999999995" fill="#141414"/><circle cx="462.8" cy="505.7" r="4.6" fill="#2d2d2d" stroke="#e6e6e6" stroke-width="1.3"/><line x1="462.8" y1="500.49999999999994" x2="462.8" y2="502.9" stroke="#eee" stroke-width="0.8"/><rect x="450.8" y="516.3" width="24" height="55" rx="1.5" fill="none" stroke="#9a9a9a" stroke-width="0.7"/><text x="453.8" y="519.2" font-size="2.6" fill="#ddd" text-anchor="start" font-weight="bold" >HI</text><path d="M457.57 529.43 A7.4 7.4 0 1 1 468.03 529.43" fill="none" stroke="#ccc" stroke-width="0.6" opacity="0.55"/><path d="M464.15 516.52 A7.8 7.8 0 0 1 467.27 530.59" fill="none" stroke="#e8e8e8" stroke-width="1.3" opacity="0.9"/><circle cx="462.8" cy="525.0" r="6.1" fill="#141414"/><circle cx="462.8" cy="524.2" r="4.8" fill="#3d4232" stroke="#d2e49a" stroke-width="1.4"/><line x1="462.8" y1="518.8000000000001" x2="462.8" y2="521.2" stroke="#eee" stroke-width="0.8"/><text x="453.8" y="538.2" font-size="2.6" fill="#ddd" text-anchor="start" font-weight="bold" >MID</text><path d="M457.57 548.43 A7.4 7.4 0 1 1 468.03 548.43" fill="none" stroke="#ccc" stroke-width="0.6" opacity="0.55"/><path d="M464.15 535.52 A7.8 7.8 0 0 1 467.27 549.59" fill="none" stroke="#e8e8e8" stroke-width="1.3" opacity="0.9"/><circle cx="462.8" cy="544.0" r="6.1" fill="#141414"/><circle cx="462.8" cy="543.2" r="4.8" fill="#3d4232" stroke="#d2e49a" stroke-width="1.4"/><line x1="462.8" y1="537.8000000000001" x2="462.8" y2="540.2" stroke="#eee" stroke-width="0.8"/><text x="453.8" y="557.8" font-size="2.6" fill="#ddd" text-anchor="start" font-weight="bold" >LOW</text><path d="M457.57 568.03 A7.4 7.4 0 1 1 468.03 568.03" fill="none" stroke="#ccc" stroke-width="0.6" opacity="0.55"/><path d="M464.15 555.12 A7.8 7.8 0 0 1 467.27 569.19" fill="none" stroke="#e8e8e8" stroke-width="1.3" opacity="0.9"/><circle cx="462.8" cy="563.5999999999999" r="6.1" fill="#141414"/><circle cx="462.8" cy="562.8" r="4.8" fill="#3d4232" stroke="#d2e49a" stroke-width="1.4"/><line x1="462.8" y1="557.4" x2="462.8" y2="559.8" stroke="#eee" stroke-width="0.8"/><rect x="469.8" y="532" width="5" height="3" fill="#ddd" opacity="0.8"/><text x="454.8" y="576.5" font-size="2.6" fill="#ddd" text-anchor="start" font-weight="bold" >EFX</text><path d="M457.00 588.40 A8.2 8.2 0 1 1 468.60 588.40" fill="none" stroke="#ddd" stroke-width="0.6" opacity="0.55"/><path d="M464.29 574.13 A8.6 8.6 0 0 1 467.73 589.64" fill="none" stroke="#e8e8e8" stroke-width="1.3" opacity="0.9"/><circle cx="462.8" cy="583.4" r="6.8999999999999995" fill="#141414"/><circle cx="462.8" cy="582.6" r="5.6" fill="#22406e" stroke="#8aa6d6" stroke-width="1.4"/><line x1="462.8" y1="576.4" x2="462.8" y2="578.8" stroke="#eee" stroke-width="0.8"/><circle cx="459.8" cy="597.8" r="1.4" fill="#d83030"/><text x="465.8" y="598.8" font-size="2.4" fill="#ddd" text-anchor="middle" font-weight="bold" >PEAK</text><path d="M456.51 614.89 A8.9 8.9 0 1 1 469.09 614.89" fill="none" stroke="#eee" stroke-width="0.6" opacity="0.55"/><path d="M464.41 599.44 A9.3 9.3 0 0 1 468.13 616.22" fill="none" stroke="#e8e8e8" stroke-width="1.3" opacity="0.9"/><circle cx="462.8" cy="609.4" r="7.6" fill="#141414"/><circle cx="462.8" cy="608.6" r="6.3" fill="#5e2a2a" stroke="#e6b0b0" stroke-width="1.5"/><line x1="462.8" y1="601.7" x2="462.8" y2="604.1" stroke="#eee" stroke-width="0.8"/><text x="462.8" y="620" font-size="4.2" fill="#e8e8e8" text-anchor="middle" font-weight="bold" >LEVEL</text><text x="462.8" y="626.2" font-size="5" fill="#6fbf78" text-anchor="middle" font-weight="bold" >2/R</text>
<rect x="612.7" y="497" width="25" height="19" fill="none" stroke="#8a8a8a" stroke-width="0.6"/><text x="617.2" y="500.5" font-size="2.6" fill="#ddd" text-anchor="middle" font-weight="bold" >GAIN</text><path d="M620.11 510.79 A7.199999999999999 7.199999999999999 0 1 1 630.29 510.79" fill="none" stroke="#ddd" stroke-width="0.6" opacity="0.55"/><path d="M626.52 498.22 A7.6 7.6 0 0 1 629.56 511.93" fill="none" stroke="#e8e8e8" stroke-width="1.3" opacity="0.9"/><circle cx="625.2" cy="506.5" r="5.8999999999999995" fill="#141414"/><circle cx="625.2" cy="505.7" r="4.6" fill="#2d2d2d" stroke="#e6e6e6" stroke-width="1.3"/><line x1="625.2" y1="500.49999999999994" x2="625.2" y2="502.9" stroke="#eee" stroke-width="0.8"/><rect x="613.2" y="516.3" width="24" height="55" rx="1.5" fill="none" stroke="#9a9a9a" stroke-width="0.7"/><text x="616.2" y="519.2" font-size="2.6" fill="#ddd" text-anchor="start" font-weight="bold" >HI</text><path d="M619.97 529.43 A7.4 7.4 0 1 1 630.43 529.43" fill="none" stroke="#ccc" stroke-width="0.6" opacity="0.55"/><path d="M626.55 516.52 A7.8 7.8 0 0 1 629.67 530.59" fill="none" stroke="#e8e8e8" stroke-width="1.3" opacity="0.9"/><circle cx="625.2" cy="525.0" r="6.1" fill="#141414"/><circle cx="625.2" cy="524.2" r="4.8" fill="#3d4232" stroke="#d2e49a" stroke-width="1.4"/><line x1="625.2" y1="518.8000000000001" x2="625.2" y2="521.2" stroke="#eee" stroke-width="0.8"/><text x="616.2" y="538.2" font-size="2.6" fill="#ddd" text-anchor="start" font-weight="bold" >MID</text><path d="M619.97 548.43 A7.4 7.4 0 1 1 630.43 548.43" fill="none" stroke="#ccc" stroke-width="0.6" opacity="0.55"/><path d="M626.55 535.52 A7.8 7.8 0 0 1 629.67 549.59" fill="none" stroke="#e8e8e8" stroke-width="1.3" opacity="0.9"/><circle cx="625.2" cy="544.0" r="6.1" fill="#141414"/><circle cx="625.2" cy="543.2" r="4.8" fill="#3d4232" stroke="#d2e49a" stroke-width="1.4"/><line x1="625.2" y1="537.8000000000001" x2="625.2" y2="540.2" stroke="#eee" stroke-width="0.8"/><text x="616.2" y="557.8" font-size="2.6" fill="#ddd" text-anchor="start" font-weight="bold" >LOW</text><path d="M619.97 568.03 A7.4 7.4 0 1 1 630.43 568.03" fill="none" stroke="#ccc" stroke-width="0.6" opacity="0.55"/><path d="M626.55 555.12 A7.8 7.8 0 0 1 629.67 569.19" fill="none" stroke="#e8e8e8" stroke-width="1.3" opacity="0.9"/><circle cx="625.2" cy="563.5999999999999" r="6.1" fill="#141414"/><circle cx="625.2" cy="562.8" r="4.8" fill="#3d4232" stroke="#d2e49a" stroke-width="1.4"/><line x1="625.2" y1="557.4" x2="625.2" y2="559.8" stroke="#eee" stroke-width="0.8"/><rect x="632.2" y="532" width="5" height="3" fill="#ddd" opacity="0.8"/><text x="617.2" y="576.5" font-size="2.6" fill="#ddd" text-anchor="start" font-weight="bold" >EFX</text><path d="M619.40 588.40 A8.2 8.2 0 1 1 631.00 588.40" fill="none" stroke="#ddd" stroke-width="0.6" opacity="0.55"/><path d="M626.69 574.13 A8.6 8.6 0 0 1 630.13 589.64" fill="none" stroke="#e8e8e8" stroke-width="1.3" opacity="0.9"/><circle cx="625.2" cy="583.4" r="6.8999999999999995" fill="#141414"/><circle cx="625.2" cy="582.6" r="5.6" fill="#22406e" stroke="#8aa6d6" stroke-width="1.4"/><line x1="625.2" y1="576.4" x2="625.2" y2="578.8" stroke="#eee" stroke-width="0.8"/><circle cx="622.2" cy="597.8" r="1.4" fill="#d83030"/><text x="628.2" y="598.8" font-size="2.4" fill="#ddd" text-anchor="middle" font-weight="bold" >PEAK</text><path d="M618.91 614.89 A8.9 8.9 0 1 1 631.49 614.89" fill="none" stroke="#eee" stroke-width="0.6" opacity="0.55"/><path d="M626.81 599.44 A9.3 9.3 0 0 1 630.53 616.22" fill="none" stroke="#e8e8e8" stroke-width="1.3" opacity="0.9"/><circle cx="625.2" cy="609.4" r="7.6" fill="#141414"/><circle cx="625.2" cy="608.6" r="6.3" fill="#5e2a2a" stroke="#e6b0b0" stroke-width="1.5"/><line x1="625.2" y1="601.7" x2="625.2" y2="604.1" stroke="#eee" stroke-width="0.8"/><text x="625.2" y="620" font-size="4.2" fill="#e8e8e8" text-anchor="middle" font-weight="bold" >LEVEL</text><text x="625.2" y="626.2" font-size="5" fill="#6fbf78" text-anchor="middle" font-weight="bold" >5/L</text>
<rect x="639.9" y="497" width="25" height="19" fill="none" stroke="#8a8a8a" stroke-width="0.6"/><text x="644.4" y="500.5" font-size="2.6" fill="#ddd" text-anchor="middle" font-weight="bold" >GAIN</text><path d="M647.31 510.79 A7.199999999999999 7.199999999999999 0 1 1 657.49 510.79" fill="none" stroke="#ddd" stroke-width="0.6" opacity="0.55"/><path d="M653.72 498.22 A7.6 7.6 0 0 1 656.76 511.93" fill="none" stroke="#e8e8e8" stroke-width="1.3" opacity="0.9"/><circle cx="652.4" cy="506.5" r="5.8999999999999995" fill="#141414"/><circle cx="652.4" cy="505.7" r="4.6" fill="#2d2d2d" stroke="#e6e6e6" stroke-width="1.3"/><line x1="652.4" y1="500.49999999999994" x2="652.4" y2="502.9" stroke="#eee" stroke-width="0.8"/><rect x="640.4" y="516.3" width="24" height="55" rx="1.5" fill="none" stroke="#9a9a9a" stroke-width="0.7"/><text x="643.4" y="519.2" font-size="2.6" fill="#ddd" text-anchor="start" font-weight="bold" >HI</text><path d="M647.17 529.43 A7.4 7.4 0 1 1 657.63 529.43" fill="none" stroke="#ccc" stroke-width="0.6" opacity="0.55"/><path d="M653.75 516.52 A7.8 7.8 0 0 1 656.87 530.59" fill="none" stroke="#e8e8e8" stroke-width="1.3" opacity="0.9"/><circle cx="652.4" cy="525.0" r="6.1" fill="#141414"/><circle cx="652.4" cy="524.2" r="4.8" fill="#3d4232" stroke="#d2e49a" stroke-width="1.4"/><line x1="652.4" y1="518.8000000000001" x2="652.4" y2="521.2" stroke="#eee" stroke-width="0.8"/><text x="643.4" y="538.2" font-size="2.6" fill="#ddd" text-anchor="start" font-weight="bold" >MID</text><path d="M647.17 548.43 A7.4 7.4 0 1 1 657.63 548.43" fill="none" stroke="#ccc" stroke-width="0.6" opacity="0.55"/><path d="M653.75 535.52 A7.8 7.8 0 0 1 656.87 549.59" fill="none" stroke="#e8e8e8" stroke-width="1.3" opacity="0.9"/><circle cx="652.4" cy="544.0" r="6.1" fill="#141414"/><circle cx="652.4" cy="543.2" r="4.8" fill="#3d4232" stroke="#d2e49a" stroke-width="1.4"/><line x1="652.4" y1="537.8000000000001" x2="652.4" y2="540.2" stroke="#eee" stroke-width="0.8"/><text x="643.4" y="557.8" font-size="2.6" fill="#ddd" text-anchor="start" font-weight="bold" >LOW</text><path d="M647.17 568.03 A7.4 7.4 0 1 1 657.63 568.03" fill="none" stroke="#ccc" stroke-width="0.6" opacity="0.55"/><path d="M653.75 555.12 A7.8 7.8 0 0 1 656.87 569.19" fill="none" stroke="#e8e8e8" stroke-width="1.3" opacity="0.9"/><circle cx="652.4" cy="563.5999999999999" r="6.1" fill="#141414"/><circle cx="652.4" cy="562.8" r="4.8" fill="#3d4232" stroke="#d2e49a" stroke-width="1.4"/><line x1="652.4" y1="557.4" x2="652.4" y2="559.8" stroke="#eee" stroke-width="0.8"/><rect x="659.4" y="532" width="5" height="3" fill="#ddd" opacity="0.8"/><text x="644.4" y="576.5" font-size="2.6" fill="#ddd" text-anchor="start" font-weight="bold" >EFX</text><path d="M646.60 588.40 A8.2 8.2 0 1 1 658.20 588.40" fill="none" stroke="#ddd" stroke-width="0.6" opacity="0.55"/><path d="M653.89 574.13 A8.6 8.6 0 0 1 657.33 589.64" fill="none" stroke="#e8e8e8" stroke-width="1.3" opacity="0.9"/><circle cx="652.4" cy="583.4" r="6.8999999999999995" fill="#141414"/><circle cx="652.4" cy="582.6" r="5.6" fill="#22406e" stroke="#8aa6d6" stroke-width="1.4"/><line x1="652.4" y1="576.4" x2="652.4" y2="578.8" stroke="#eee" stroke-width="0.8"/><circle cx="649.4" cy="597.8" r="1.4" fill="#d83030"/><text x="655.4" y="598.8" font-size="2.4" fill="#ddd" text-anchor="middle" font-weight="bold" >PEAK</text><path d="M646.11 614.89 A8.9 8.9 0 1 1 658.69 614.89" fill="none" stroke="#eee" stroke-width="0.6" opacity="0.55"/><path d="M654.01 599.44 A9.3 9.3 0 0 1 657.73 616.22" fill="none" stroke="#e8e8e8" stroke-width="1.3" opacity="0.9"/><circle cx="652.4" cy="609.4" r="7.6" fill="#141414"/><circle cx="652.4" cy="608.6" r="6.3" fill="#5e2a2a" stroke="#e6b0b0" stroke-width="1.5"/><line x1="652.4" y1="601.7" x2="652.4" y2="604.1" stroke="#eee" stroke-width="0.8"/><text x="652.4" y="620" font-size="4.2" fill="#e8e8e8" text-anchor="middle" font-weight="bold" >LEVEL</text><text x="652.4" y="626.2" font-size="5" fill="#6fbf78" text-anchor="middle" font-weight="bold" >6/R</text>
<rect x="446.6" y="595.5" width="9" height="6.3" fill="#222" stroke="#555" stroke-width="0.5"/><path d="M447.40 601.00 L451.18 596.30" stroke="#d0d0d0" stroke-width="1.1"/><path d="M450.21 601.00 L453.99 596.30" stroke="#d0d0d0" stroke-width="1.1"/><path d="M453.03 601.00 L456.81 596.30" stroke="#d0d0d0" stroke-width="1.1"/>
<rect x="635.6" y="595.5" width="9" height="6.3" fill="#222" stroke="#555" stroke-width="0.5"/><path d="M636.40 601.00 L640.18 596.30" stroke="#d0d0d0" stroke-width="1.1"/><path d="M639.21 601.00 L642.99 596.30" stroke="#d0d0d0" stroke-width="1.1"/><path d="M642.02 601.00 L645.80 596.30" stroke="#d0d0d0" stroke-width="1.1"/>
<line x1="423.9" y1="572" x2="423.9" y2="630" stroke="#8c8c8c" stroke-width="0.7"/>
<line x1="450.4" y1="572" x2="450.4" y2="630" stroke="#8c8c8c" stroke-width="0.7"/>
<line x1="477.0" y1="572" x2="477.0" y2="630" stroke="#8c8c8c" stroke-width="0.7"/>
<line x1="611.9" y1="572" x2="611.9" y2="630" stroke="#8c8c8c" stroke-width="0.7"/>
<line x1="640.0" y1="572" x2="640.0" y2="630" stroke="#8c8c8c" stroke-width="0.7"/>
<line x1="667.0" y1="572" x2="667.0" y2="630" stroke="#8c8c8c" stroke-width="0.7"/>
<line x1="451.0" y1="497" x2="451.0" y2="572" stroke="#777" stroke-width="0.6"/>
<line x1="640.0" y1="497" x2="640.0" y2="572" stroke="#777" stroke-width="0.6"/>
<line x1="506" y1="551" x2="506" y2="630" stroke="#8c8c8c" stroke-width="0.7"/>
<text x="524" y="499" font-size="3" fill="#9fcf98" text-anchor="middle" font-weight="bold" textLength="48" lengthAdjust="spacingAndGlyphs">STEREO GRAPHIC EQUALIZER</text>
<rect x="481.6" y="500.5" width="84" height="3.6" rx="1.8" fill="#8fbf86"/>
<line x1="483" y1="508.2" x2="563" y2="508.2" stroke="#a8a8a8" stroke-width="0.9" opacity="0.75"/>
<line x1="483" y1="511.2" x2="563" y2="511.2" stroke="#a8a8a8" stroke-width="0.9" opacity="0.75"/>
<line x1="483" y1="514.2" x2="563" y2="514.2" stroke="#a8a8a8" stroke-width="0.9" opacity="0.75"/>
<line x1="483" y1="517.2" x2="563" y2="517.2" stroke="#a8a8a8" stroke-width="0.9" opacity="0.75"/>
<line x1="483" y1="520.2" x2="563" y2="520.2" stroke="#a8a8a8" stroke-width="0.9" opacity="0.75"/>
<line x1="483" y1="523.2" x2="563" y2="523.2" stroke="#a8a8a8" stroke-width="0.9" opacity="0.75"/>
<line x1="483" y1="526.2" x2="563" y2="526.2" stroke="#a8a8a8" stroke-width="0.9" opacity="0.75"/>
<line x1="483" y1="529.2" x2="563" y2="529.2" stroke="#a8a8a8" stroke-width="0.9" opacity="0.75"/>
<line x1="483" y1="532.2" x2="563" y2="532.2" stroke="#a8a8a8" stroke-width="0.9" opacity="0.75"/>
<rect x="487.0" y="504.7" width="3.2" height="31.5" fill="#0e0e0e"/>
<path d="M486.40000000000003 520.5 L488.6 517.5 L490.8 520.5 Z" fill="#eee"/>
<rect x="498.4" y="504.7" width="3.2" height="31.5" fill="#0e0e0e"/>
<path d="M497.8 520.5 L500.0 517.5 L502.2 520.5 Z" fill="#eee"/>
<rect x="510.09999999999997" y="504.7" width="3.2" height="31.5" fill="#0e0e0e"/>
<path d="M509.5 520.5 L511.7 517.5 L513.9 520.5 Z" fill="#eee"/>
<rect x="522.0" y="504.7" width="3.2" height="31.5" fill="#0e0e0e"/>
<path d="M521.4 520.5 L523.6 517.5 L525.8000000000001 520.5 Z" fill="#eee"/>
<rect x="533.6" y="504.7" width="3.2" height="31.5" fill="#0e0e0e"/>
<path d="M533.0 520.5 L535.2 517.5 L537.4000000000001 520.5 Z" fill="#eee"/>
<rect x="545.3" y="504.7" width="3.2" height="31.5" fill="#0e0e0e"/>
<path d="M544.6999999999999 520.5 L546.9 517.5 L549.1 520.5 Z" fill="#eee"/>
<rect x="556.9" y="504.7" width="3.2" height="31.5" fill="#0e0e0e"/>
<path d="M556.3 520.5 L558.5 517.5 L560.7 520.5 Z" fill="#eee"/>
<text x="495" y="543.5" font-size="3" fill="#c8d8c0" text-anchor="start" font-weight="bold" textLength="40" lengthAdjust="spacingAndGlyphs">7 CHANNEL PROFESSIONAL</text>
<text x="481" y="547.2" font-size="3" fill="#c8d8c0" text-anchor="start" font-weight="bold" textLength="58" lengthAdjust="spacingAndGlyphs">STEREO EFFECTS MIXER WITH USB</text>
<path d="M481 543.5 l3 -4 M484 543.5 l3 -4 M487 543.5 l3 -4" stroke="#b8d8b0" stroke-width="0.8"/>
<rect x="573" y="498" width="34.6" height="29.5" rx="2.5" fill="#353535" stroke="#8aa088" stroke-width="0.8"/>
<path d="M584.31 512.59 A7.199999999999999 7.199999999999999 0 1 1 594.49 512.59" fill="none" stroke="#ddd" stroke-width="0.6" opacity="0.55"/><path d="M590.72 500.02 A7.6 7.6 0 0 1 593.76 513.73" fill="none" stroke="#e8e8e8" stroke-width="1.3" opacity="0.9"/><circle cx="589.4" cy="508.3" r="5.8999999999999995" fill="#141414"/><circle cx="589.4" cy="507.5" r="4.6" fill="#6a2e2e" stroke="#e0a0a0" stroke-width="1.3"/><line x1="589.4" y1="502.29999999999995" x2="589.4" y2="504.7" stroke="#eee" stroke-width="0.8"/>
<text x="590.3" y="524.5" font-size="5.2" fill="#eeeeee" text-anchor="middle" font-weight="bold" >PHONES</text>
<rect x="480.2" y="551.5" width="24.5" height="42.7" rx="2" fill="#2a2e28" stroke="#8aa880" stroke-width="0.8"/>
<path d="M486.03 568.77 A7.6 7.6 0 1 1 496.77 568.77" fill="none" stroke="#bcd8a0" stroke-width="0.6" opacity="0.55"/><path d="M492.79 555.52 A8.0 8.0 0 0 1 495.99 569.95" fill="none" stroke="#e8e8e8" stroke-width="1.3" opacity="0.9"/><circle cx="491.4" cy="564.1999999999999" r="6.3" fill="#141414"/><circle cx="491.4" cy="563.4" r="5" fill="#3e4530" stroke="#dcee9a" stroke-width="1.5"/><line x1="491.4" y1="557.8" x2="491.4" y2="560.1999999999999" stroke="#eee" stroke-width="0.8"/>
<path d="M486.03 590.37 A7.6 7.6 0 1 1 496.77 590.37" fill="none" stroke="#bcd8a0" stroke-width="0.6" opacity="0.55"/><path d="M492.79 577.12 A8.0 8.0 0 0 1 495.99 591.55" fill="none" stroke="#e8e8e8" stroke-width="1.3" opacity="0.9"/><circle cx="491.4" cy="585.8" r="6.3" fill="#141414"/><circle cx="491.4" cy="585" r="5" fill="#3e4530" stroke="#dcee9a" stroke-width="1.5"/><line x1="491.4" y1="579.4" x2="491.4" y2="581.8" stroke="#eee" stroke-width="0.8"/>
<text x="500" y="576" font-size="3.2" fill="#ddd" text-anchor="middle" font-weight="bold" >EQ</text>
<path d="M483.92 614.18 A8.6 8.6 0 1 1 496.08 614.18" fill="none" stroke="#a8d8a0" stroke-width="0.6" opacity="0.55"/><path d="M491.56 599.24 A9.0 9.0 0 0 1 495.16 615.47" fill="none" stroke="#b8e890" stroke-width="1.6" opacity="0.9"/><circle cx="490" cy="608.9" r="7.3" fill="#141414"/><circle cx="490" cy="608.1" r="6" fill="#5e2a2a" stroke="#e0a8a8" stroke-width="1.5"/><line x1="490" y1="601.5" x2="490" y2="603.9" stroke="#eee" stroke-width="0.8"/>
<text x="490" y="620" font-size="4.2" fill="#e8e8e8" text-anchor="middle" font-weight="bold" >LEVEL</text>
<text x="490" y="626.2" font-size="4.6" fill="#6fbf78" text-anchor="middle" font-weight="bold" >ST3/4</text>
<rect x="513.8" y="555.7" width="18.8" height="16.1" fill="#2a0c0c"/>
<text x="523.3" y="570" font-size="14" fill="#b41c1c" text-anchor="middle" font-weight="normal" font-family="Liberation Mono" textLength="14.5" lengthAdjust="spacingAndGlyphs">99</text>
<text x="523.2" y="578" font-size="2.5" fill="#ccc" text-anchor="middle" font-weight="bold" >MULTI EFFECTS</text>
<path d="M517.10 593.00 A8.2 8.2 0 1 1 528.70 593.00" fill="none" stroke="#ddd" stroke-width="0.6" opacity="0.55"/><path d="M524.39 578.73 A8.6 8.6 0 0 1 527.83 594.24" fill="none" stroke="#e8e8e8" stroke-width="1.3" opacity="0.9"/><circle cx="522.9" cy="588.0" r="6.8999999999999995" fill="#141414"/><circle cx="522.9" cy="587.2" r="5.6" fill="#22406e" stroke="#8aa6d6" stroke-width="1.4"/><line x1="522.9" y1="581.0" x2="522.9" y2="583.4" stroke="#eee" stroke-width="0.8"/>
<text x="522.9" y="597.3" font-size="3.4" fill="#ddd" text-anchor="middle" font-weight="bold" >PROGRAM</text>
<circle cx="521.1" cy="609.2" r="11.8" fill="#1a1a1a" stroke="#5a5a5a" stroke-width="0.8"/>
<circle cx="521.1" cy="609.2" r="8.5" fill="#141414"/>
<circle cx="521.1" cy="609.2" r="5.6" fill="url(#ledRed)"/>
<text x="521.8" y="626" font-size="4.2" fill="#eeeeee" text-anchor="middle" font-weight="bold" >PARAMETER</text>
<circle cx="543.8" cy="550.3" r="1.3" fill="#e08a40"/>
<circle cx="564.1" cy="550.3" r="1.3" fill="#e08a40"/>
<line x1="546" y1="550.3" x2="562" y2="550.3" stroke="#aaa" stroke-width="0.5" opacity="0.7"/>
<circle cx="543.8" cy="555.7" r="1.3" fill="#e8d060"/>
<circle cx="564.1" cy="555.7" r="1.3" fill="#e8d060"/>
<line x1="546" y1="555.7" x2="562" y2="555.7" stroke="#aaa" stroke-width="0.5" opacity="0.7"/>
<circle cx="543.8" cy="561.3" r="1.3" fill="#6ad060"/>
<circle cx="564.1" cy="561.3" r="1.3" fill="#6ad060"/>
<line x1="546" y1="561.3" x2="562" y2="561.3" stroke="#aaa" stroke-width="0.5" opacity="0.7"/>
<circle cx="543.8" cy="566.2" r="1.3" fill="#6ad060"/>
<circle cx="564.1" cy="566.2" r="1.3" fill="#6ad060"/>
<line x1="546" y1="566.2" x2="562" y2="566.2" stroke="#aaa" stroke-width="0.5" opacity="0.7"/>
<circle cx="543.8" cy="571.8" r="1.3" fill="#6ad060"/>
<circle cx="564.1" cy="571.8" r="1.3" fill="#6ad060"/>
<line x1="546" y1="571.8" x2="562" y2="571.8" stroke="#aaa" stroke-width="0.5" opacity="0.7"/>
<circle cx="554" cy="571.8" r="1.3" fill="#d03030"/>
<text x="554" y="576.5" font-size="2.2" fill="#bbb" text-anchor="middle" font-weight="bold" >POWER</text>
<text x="553.5" y="592" font-size="11" fill="none" text-anchor="middle" font-weight="bold" stroke="#6ab870" stroke-width="0.7" textLength="22" lengthAdjust="spacingAndGlyphs">DSP</text>
<path d="M545.42 614.18 A8.6 8.6 0 1 1 557.58 614.18" fill="none" stroke="#a8d8a0" stroke-width="0.6" opacity="0.55"/><path d="M553.06 599.24 A9.0 9.0 0 0 1 556.66 615.47" fill="none" stroke="#b8e890" stroke-width="1.6" opacity="0.9"/><circle cx="551.5" cy="608.9" r="7.3" fill="#141414"/><circle cx="551.5" cy="608.1" r="6" fill="#5e2a2a" stroke="#e0a8a8" stroke-width="1.5"/><line x1="551.5" y1="601.5" x2="551.5" y2="603.9" stroke="#eee" stroke-width="0.8"/>
<text x="551.5" y="620" font-size="4.2" fill="#e8e8e8" text-anchor="middle" font-weight="bold" >LEVEL</text>
<text x="551.5" y="626.2" font-size="5" fill="#6fbf78" text-anchor="middle" font-weight="bold" >EFFX</text>
<rect x="573.4" y="549.7" width="4.899999999999977" height="19.6" fill="#c8c8c8" opacity="0.8"/>
<line x1="573.4" y1="550.60" x2="578.3" y2="550.60" stroke="#2a2a2a" stroke-width="0.6" opacity="0.8"/>
<line x1="573.4" y1="552.55" x2="578.3" y2="552.55" stroke="#2a2a2a" stroke-width="0.6" opacity="0.8"/>
<line x1="573.4" y1="554.50" x2="578.3" y2="554.50" stroke="#2a2a2a" stroke-width="0.6" opacity="0.8"/>
<line x1="573.4" y1="556.45" x2="578.3" y2="556.45" stroke="#2a2a2a" stroke-width="0.6" opacity="0.8"/>
<line x1="573.4" y1="558.40" x2="578.3" y2="558.40" stroke="#2a2a2a" stroke-width="0.6" opacity="0.8"/>
<line x1="573.4" y1="560.35" x2="578.3" y2="560.35" stroke="#2a2a2a" stroke-width="0.6" opacity="0.8"/>
<line x1="573.4" y1="562.30" x2="578.3" y2="562.30" stroke="#2a2a2a" stroke-width="0.6" opacity="0.8"/>
<line x1="573.4" y1="564.25" x2="578.3" y2="564.25" stroke="#2a2a2a" stroke-width="0.6" opacity="0.8"/>
<line x1="573.4" y1="566.20" x2="578.3" y2="566.20" stroke="#2a2a2a" stroke-width="0.6" opacity="0.8"/>
<line x1="573.4" y1="568.15" x2="578.3" y2="568.15" stroke="#2a2a2a" stroke-width="0.6" opacity="0.8"/>
<rect x="601.2" y="549.7" width="4.7999999999999545" height="19.6" fill="#c8c8c8" opacity="0.8"/>
<line x1="601.2" y1="550.60" x2="606" y2="550.60" stroke="#2a2a2a" stroke-width="0.6" opacity="0.8"/>
<line x1="601.2" y1="552.55" x2="606" y2="552.55" stroke="#2a2a2a" stroke-width="0.6" opacity="0.8"/>
<line x1="601.2" y1="554.50" x2="606" y2="554.50" stroke="#2a2a2a" stroke-width="0.6" opacity="0.8"/>
<line x1="601.2" y1="556.45" x2="606" y2="556.45" stroke="#2a2a2a" stroke-width="0.6" opacity="0.8"/>
<line x1="601.2" y1="558.40" x2="606" y2="558.40" stroke="#2a2a2a" stroke-width="0.6" opacity="0.8"/>
<line x1="601.2" y1="560.35" x2="606" y2="560.35" stroke="#2a2a2a" stroke-width="0.6" opacity="0.8"/>
<line x1="601.2" y1="562.30" x2="606" y2="562.30" stroke="#2a2a2a" stroke-width="0.6" opacity="0.8"/>
<line x1="601.2" y1="564.25" x2="606" y2="564.25" stroke="#2a2a2a" stroke-width="0.6" opacity="0.8"/>
<line x1="601.2" y1="566.20" x2="606" y2="566.20" stroke="#2a2a2a" stroke-width="0.6" opacity="0.8"/>
<line x1="601.2" y1="568.15" x2="606" y2="568.15" stroke="#2a2a2a" stroke-width="0.6" opacity="0.8"/>
<rect x="583.2" y="549.7" width="4.7999999999999545" height="19.6" fill="#a8d0a4" opacity="0.8"/>
<line x1="583.2" y1="550.60" x2="588" y2="550.60" stroke="#2a2a2a" stroke-width="0.6" opacity="0.8"/>
<line x1="583.2" y1="552.55" x2="588" y2="552.55" stroke="#2a2a2a" stroke-width="0.6" opacity="0.8"/>
<line x1="583.2" y1="554.50" x2="588" y2="554.50" stroke="#2a2a2a" stroke-width="0.6" opacity="0.8"/>
<line x1="583.2" y1="556.45" x2="588" y2="556.45" stroke="#2a2a2a" stroke-width="0.6" opacity="0.8"/>
<line x1="583.2" y1="558.40" x2="588" y2="558.40" stroke="#2a2a2a" stroke-width="0.6" opacity="0.8"/>
<line x1="583.2" y1="560.35" x2="588" y2="560.35" stroke="#2a2a2a" stroke-width="0.6" opacity="0.8"/>
<line x1="583.2" y1="562.30" x2="588" y2="562.30" stroke="#2a2a2a" stroke-width="0.6" opacity="0.8"/>
<line x1="583.2" y1="564.25" x2="588" y2="564.25" stroke="#2a2a2a" stroke-width="0.6" opacity="0.8"/>
<line x1="583.2" y1="566.20" x2="588" y2="566.20" stroke="#2a2a2a" stroke-width="0.6" opacity="0.8"/>
<line x1="583.2" y1="568.15" x2="588" y2="568.15" stroke="#2a2a2a" stroke-width="0.6" opacity="0.8"/>
<rect x="592.2" y="549.7" width="4.7999999999999545" height="19.6" fill="#a8d0a4" opacity="0.8"/>
<line x1="592.2" y1="550.60" x2="597" y2="550.60" stroke="#2a2a2a" stroke-width="0.6" opacity="0.8"/>
<line x1="592.2" y1="552.55" x2="597" y2="552.55" stroke="#2a2a2a" stroke-width="0.6" opacity="0.8"/>
<line x1="592.2" y1="554.50" x2="597" y2="554.50" stroke="#2a2a2a" stroke-width="0.6" opacity="0.8"/>
<line x1="592.2" y1="556.45" x2="597" y2="556.45" stroke="#2a2a2a" stroke-width="0.6" opacity="0.8"/>
<line x1="592.2" y1="558.40" x2="597" y2="558.40" stroke="#2a2a2a" stroke-width="0.6" opacity="0.8"/>
<line x1="592.2" y1="560.35" x2="597" y2="560.35" stroke="#2a2a2a" stroke-width="0.6" opacity="0.8"/>
<line x1="592.2" y1="562.30" x2="597" y2="562.30" stroke="#2a2a2a" stroke-width="0.6" opacity="0.8"/>
<line x1="592.2" y1="564.25" x2="597" y2="564.25" stroke="#2a2a2a" stroke-width="0.6" opacity="0.8"/>
<line x1="592.2" y1="566.20" x2="597" y2="566.20" stroke="#2a2a2a" stroke-width="0.6" opacity="0.8"/>
<line x1="592.2" y1="568.15" x2="597" y2="568.15" stroke="#2a2a2a" stroke-width="0.6" opacity="0.8"/>
<line x1="573" y1="541.5" x2="606" y2="541.5" stroke="#b0b0b0" stroke-width="0.8" opacity="0.7"/>
<line x1="573" y1="544.5" x2="606" y2="544.5" stroke="#b0b0b0" stroke-width="0.8" opacity="0.7"/>
<line x1="573" y1="572" x2="606" y2="572" stroke="#b0b0b0" stroke-width="0.8" opacity="0.7"/>
<line x1="573" y1="575.5" x2="606" y2="575.5" stroke="#b0b0b0" stroke-width="0.8" opacity="0.7"/>
<line x1="573" y1="579" x2="606" y2="579" stroke="#b0b0b0" stroke-width="0.8" opacity="0.7"/>
<line x1="573" y1="584" x2="606" y2="584" stroke="#b0b0b0" stroke-width="0.8" opacity="0.7"/>
<line x1="573" y1="590.6" x2="606" y2="590.6" stroke="#b0b0b0" stroke-width="0.8" opacity="0.7"/>
<line x1="573" y1="600" x2="606" y2="600" stroke="#b0b0b0" stroke-width="0.8" opacity="0.7"/>
<line x1="573" y1="606" x2="606" y2="606" stroke="#b0b0b0" stroke-width="0.8" opacity="0.7"/>
<rect x="578.8" y="538.2" width="3.6" height="60" fill="#0a0a0a"/>
<rect x="597.5" y="538.2" width="3.6" height="60" fill="#0a0a0a"/>
<rect x="574.2" y="596.6" width="12.3" height="25.5" fill="#e6e6e6"/>
<rect x="574.2" y="608.8" width="12.3" height="2.4" fill="#4a4a4a"/>
<rect x="574.2" y="601.5" width="12.3" height="0.7" fill="#999"/>
<rect x="574.2" y="604.5" width="12.3" height="0.7" fill="#999"/>
<rect x="574.2" y="596.6" width="12.3" height="25.5" fill="none" stroke="#888" stroke-width="0.5"/>
<rect x="593.0" y="596.6" width="12.3" height="25.5" fill="#e6e6e6"/>
<rect x="593.0" y="608.8" width="12.3" height="2.4" fill="#4a4a4a"/>
<rect x="593.0" y="601.5" width="12.3" height="0.7" fill="#999"/>
<rect x="593.0" y="604.5" width="12.3" height="0.7" fill="#999"/>
<rect x="593.0" y="596.6" width="12.3" height="25.5" fill="none" stroke="#888" stroke-width="0.5"/>
<text x="589.5" y="627.3" font-size="5.4" fill="#7ac878" text-anchor="middle" font-weight="bold" textLength="31" lengthAdjust="spacingAndGlyphs">MAIN</text>
<text x="589.5" y="541" font-size="2.6" fill="#ddd" text-anchor="middle" font-weight="bold" >+6</text>
</g>
<path d="M292.0 198.0 L298.7 199.0 L305.3 200.2 L311.9 201.7 L318.4 203.3 L324.8 205.1 L331.1 207.0 L337.5 209.1 L343.8 211.3 L350.0 213.5 L356.3 215.8 L362.5 218.2 L368.7 220.6 L374.9 223.1 L381.0 225.6 L387.2 228.2 L393.4 230.7 L399.6 233.3 L405.7 235.9 L411.9 238.6 L418.1 241.2 L424.2 243.9 L430.4 246.6 L436.5 249.3 L442.6 252.1 L448.7 254.9 L454.8 257.8 L460.8 260.7 L466.8 263.7 L472.8 266.8 L478.7 270.0 L484.5 273.2 L490.3 276.6 L495.9 280.1 L501.5 283.6 L507.0 287.3 L512.4 291.2 L517.7 295.2 L522.8 299.3 L527.8 303.6 L532.7 308.1 L537.4 312.7 L542.0 317.5 L546.3 322.4 L550.6 327.5 L554.6 332.8 L558.4 338.2 L562.1 343.8 L565.5 349.6 L568.8 355.5 L571.9 361.5 L574.8 367.6 L577.5 373.9 L580.0 380.2 L582.4 386.5 L584.6 392.9 L586.6 399.3 L588.5 405.6 L590.3 411.9 L592.0 418.0" fill="none" stroke="#141414" stroke-width="3.8" stroke-linecap="round" stroke-linejoin="round"/>
<path d="M571.5 366 L576 376 L581 388 L585.5 400 L589 412 L590.5 418" fill="none" stroke="#161616" stroke-width="5.2" stroke-linecap="round" stroke-linejoin="round"/>
<path d="M278 192.4 L293.6 194.8 L294.5 197.5 L294 201 L292.4 202 L279.3 200.3 Z" fill="#151515"/><path d="M279 193.5 L292 195.5" stroke="#4a4a4a" stroke-width="0.7"/><path d="M288.5 194.5 L288 201.5" stroke="#2a2a2a" stroke-width="0.8"/>
<path d="M583 416.3 L594 416.3 L594 421.8 L593.2 422.5 L593 432 L584.6 432 L584.2 422.5 L583 421.8 Z" fill="#101010"/>
<path d="M585 425 L592 425" stroke="#333" stroke-width="0.8"/>
</svg>
<div class="t" style="left:357.15px;top:175.7px;transform:scaleX(0.847)">Computer</div>
<div class="t" style="left:458.86px;top:175.7px;transform:scaleX(0.842)">music</div>
<div class="t" style="left:522.04px;top:175.7px;transform:scaleX(0.861)">signal</div>
<div class="t" style="left:579.87px;top:175.7px;transform:scaleX(1.032)">-----</div>
<div class="t" style="left:481.00px;top:228.5px;transform:scaleX(0.833)">to</div>
<div class="t" style="left:505.67px;top:228.5px;transform:scaleX(0.833)">audio</div>
<div class="t" style="left:566.77px;top:228.5px;transform:scaleX(0.832)">mixer</div>
<div class="t" style="left:55.15px;top:286.3px;transform:scaleX(0.851)">Audio</div>
<div class="t" style="left:119.17px;top:286.3px;transform:scaleX(0.827)">mixer</div>
<div class="t" style="left:180.65px;top:286.3px;transform:scaleX(0.848)">music</div>
<div class="t" style="left:244.33px;top:286.3px;transform:scaleX(0.873)">signal</div>
<div class="t" style="left:302.15px;top:286.3px;transform:scaleX(1.052)">----</div>
<div class="t" style="left:105.20px;top:340.2px;transform:scaleX(0.862)">to</div>
<div class="t" style="left:129.64px;top:340.2px;transform:scaleX(0.863)">computer</div>
<div class="t" style="left:229.14px;top:340.2px;transform:scaleX(0.862)">record</div>
<div class="t" style="left:299.54px;top:340.2px;transform:scaleX(0.859)">program</div>
</body></html>
